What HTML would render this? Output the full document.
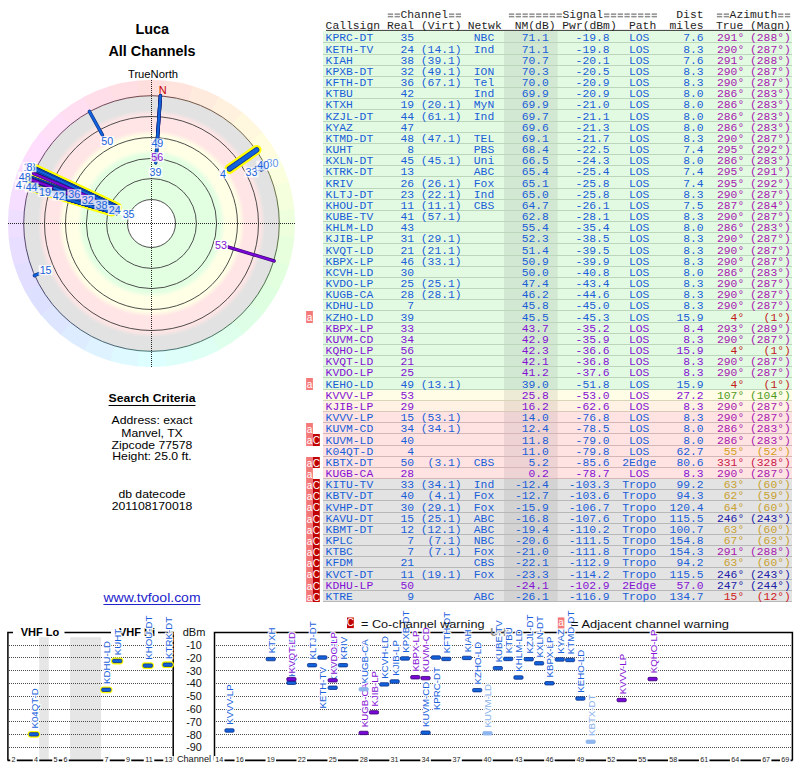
<!DOCTYPE html>
<html><head><meta charset="utf-8"><style>
*{margin:0;padding:0;box-sizing:border-box}
html,body{width:800px;height:768px;overflow:hidden;background:#fff}
body{position:relative;font-family:"Liberation Sans", sans-serif}
.m{position:absolute;font-family:"Liberation Mono", monospace;font-size:11.33px;line-height:11.33px;white-space:pre}
.h{color:#1e1e1e;transform:none}
.t{position:absolute;white-space:pre;font-family:"Liberation Sans", sans-serif;color:#000}
.abs{position:absolute;overflow:visible}
svg text{font-family:"Liberation Sans", sans-serif}
</style></head><body>
<svg class="abs" width="310" height="380" viewBox="0 0 310 380" style="left:0;top:0">
<defs><radialGradient id="bands" cx="151.50" cy="223.50" r="128" gradientUnits="userSpaceOnUse">
<stop offset="0.0000" stop-color="#ffffff"/>
<stop offset="0.1867" stop-color="#ffffff"/>
<stop offset="0.1875" stop-color="#e2ffe2"/>
<stop offset="0.5352" stop-color="#e2ffe2"/>
<stop offset="0.5781" stop-color="#ffffe6"/>
<stop offset="0.6875" stop-color="#ffffe6"/>
<stop offset="0.7305" stop-color="#ffe5e5"/>
<stop offset="0.8477" stop-color="#ffe5e5"/>
<stop offset="0.8906" stop-color="#e2e2e2"/>
<stop offset="1.0000" stop-color="#e2e2e2"/>
</radialGradient></defs>
<path d="M137.05,80.63 A143.6,143.6 0 0 1 165.95,80.63 L164.31,96.85 A127.3,127.3 0 0 0 138.69,96.85Z" fill="hsl(0.0,100%,93.5%)"/>
<path d="M165.20,80.56 A143.6,143.6 0 0 1 193.54,86.19 L188.77,101.78 A127.3,127.3 0 0 0 163.65,96.78Z" fill="hsl(11.2,100%,93.5%)"/>
<path d="M192.82,85.97 A143.6,143.6 0 0 1 219.52,97.03 L211.80,111.39 A127.3,127.3 0 0 0 188.13,101.59Z" fill="hsl(22.5,100%,93.5%)"/>
<path d="M218.86,96.68 A143.6,143.6 0 0 1 242.89,112.73 L232.52,125.31 A127.3,127.3 0 0 0 211.21,111.07Z" fill="hsl(33.8,100%,93.5%)"/>
<path d="M242.31,112.26 A143.6,143.6 0 0 1 262.74,132.69 L250.12,143.00 A127.3,127.3 0 0 0 232.00,124.88Z" fill="hsl(45.0,100%,93.5%)"/>
<path d="M262.27,132.11 A143.6,143.6 0 0 1 278.32,156.14 L263.93,163.79 A127.3,127.3 0 0 0 249.69,142.48Z" fill="hsl(56.2,100%,93.5%)"/>
<path d="M277.97,155.48 A143.6,143.6 0 0 1 289.03,182.18 L273.41,186.87 A127.3,127.3 0 0 0 263.61,163.20Z" fill="hsl(67.5,100%,93.5%)"/>
<path d="M288.81,181.46 A143.6,143.6 0 0 1 294.44,209.80 L278.22,211.35 A127.3,127.3 0 0 0 273.22,186.23Z" fill="hsl(78.8,100%,93.5%)"/>
<path d="M294.37,209.05 A143.6,143.6 0 0 1 294.37,237.95 L278.15,236.31 A127.3,127.3 0 0 0 278.15,210.69Z" fill="hsl(90.0,100%,93.5%)"/>
<path d="M294.44,237.20 A143.6,143.6 0 0 1 288.81,265.54 L273.22,260.77 A127.3,127.3 0 0 0 278.22,235.65Z" fill="hsl(101.2,100%,93.5%)"/>
<path d="M289.03,264.82 A143.6,143.6 0 0 1 277.97,291.52 L263.61,283.80 A127.3,127.3 0 0 0 273.41,260.13Z" fill="hsl(112.5,100%,93.5%)"/>
<path d="M278.32,290.86 A143.6,143.6 0 0 1 262.27,314.89 L249.69,304.52 A127.3,127.3 0 0 0 263.93,283.21Z" fill="hsl(123.8,100%,93.5%)"/>
<path d="M262.74,314.31 A143.6,143.6 0 0 1 242.31,334.74 L232.00,322.12 A127.3,127.3 0 0 0 250.12,304.00Z" fill="hsl(135.0,100%,93.5%)"/>
<path d="M242.89,334.27 A143.6,143.6 0 0 1 218.86,350.32 L211.21,335.93 A127.3,127.3 0 0 0 232.52,321.69Z" fill="hsl(146.2,100%,93.5%)"/>
<path d="M219.52,349.97 A143.6,143.6 0 0 1 192.82,361.03 L188.13,345.41 A127.3,127.3 0 0 0 211.80,335.61Z" fill="hsl(157.5,100%,93.5%)"/>
<path d="M193.54,360.81 A143.6,143.6 0 0 1 165.20,366.44 L163.65,350.22 A127.3,127.3 0 0 0 188.77,345.22Z" fill="hsl(168.8,100%,93.5%)"/>
<path d="M165.95,366.37 A143.6,143.6 0 0 1 137.05,366.37 L138.69,350.15 A127.3,127.3 0 0 0 164.31,350.15Z" fill="hsl(180.0,100%,93.5%)"/>
<path d="M137.80,366.44 A143.6,143.6 0 0 1 109.46,360.81 L114.23,345.22 A127.3,127.3 0 0 0 139.35,350.22Z" fill="hsl(191.2,100%,93.5%)"/>
<path d="M110.18,361.03 A143.6,143.6 0 0 1 83.48,349.97 L91.20,335.61 A127.3,127.3 0 0 0 114.87,345.41Z" fill="hsl(202.5,100%,93.5%)"/>
<path d="M84.14,350.32 A143.6,143.6 0 0 1 60.11,334.27 L70.48,321.69 A127.3,127.3 0 0 0 91.79,335.93Z" fill="hsl(213.8,100%,93.5%)"/>
<path d="M60.69,334.74 A143.6,143.6 0 0 1 40.26,314.31 L52.88,304.00 A127.3,127.3 0 0 0 71.00,322.12Z" fill="hsl(225.0,100%,93.5%)"/>
<path d="M40.73,314.89 A143.6,143.6 0 0 1 24.68,290.86 L39.07,283.21 A127.3,127.3 0 0 0 53.31,304.52Z" fill="hsl(236.2,100%,93.5%)"/>
<path d="M25.03,291.52 A143.6,143.6 0 0 1 13.97,264.82 L29.59,260.13 A127.3,127.3 0 0 0 39.39,283.80Z" fill="hsl(247.5,100%,93.5%)"/>
<path d="M14.19,265.54 A143.6,143.6 0 0 1 8.56,237.20 L24.78,235.65 A127.3,127.3 0 0 0 29.78,260.77Z" fill="hsl(258.8,100%,93.5%)"/>
<path d="M8.63,237.95 A143.6,143.6 0 0 1 8.63,209.05 L24.85,210.69 A127.3,127.3 0 0 0 24.85,236.31Z" fill="hsl(270.0,100%,93.5%)"/>
<path d="M8.56,209.80 A143.6,143.6 0 0 1 14.19,181.46 L29.78,186.23 A127.3,127.3 0 0 0 24.78,211.35Z" fill="hsl(281.2,100%,93.5%)"/>
<path d="M13.97,182.18 A143.6,143.6 0 0 1 25.03,155.48 L39.39,163.20 A127.3,127.3 0 0 0 29.59,186.87Z" fill="hsl(292.5,100%,93.5%)"/>
<path d="M24.68,156.14 A143.6,143.6 0 0 1 40.73,132.11 L53.31,142.48 A127.3,127.3 0 0 0 39.07,163.79Z" fill="hsl(303.8,100%,93.5%)"/>
<path d="M40.26,132.69 A143.6,143.6 0 0 1 60.69,112.26 L71.00,124.88 A127.3,127.3 0 0 0 52.88,143.00Z" fill="hsl(315.0,100%,93.5%)"/>
<path d="M60.11,112.73 A143.6,143.6 0 0 1 84.14,96.68 L91.79,111.07 A127.3,127.3 0 0 0 70.48,125.31Z" fill="hsl(326.2,100%,93.5%)"/>
<path d="M83.48,97.03 A143.6,143.6 0 0 1 110.18,85.97 L114.87,101.59 A127.3,127.3 0 0 0 91.20,111.39Z" fill="hsl(337.5,100%,93.5%)"/>
<path d="M109.46,86.19 A143.6,143.6 0 0 1 137.80,80.56 L139.35,96.78 A127.3,127.3 0 0 0 114.23,101.78Z" fill="hsl(348.8,100%,93.5%)"/>
<circle cx="151.5" cy="223.5" r="127.8" fill="url(#bands)"/>
<circle cx="151.5" cy="223.5" r="24.0" fill="none" stroke="#3a3a3a" stroke-width="0.9"/>
<circle cx="151.5" cy="223.5" r="44.9" fill="none" stroke="#3a3a3a" stroke-width="0.9"/>
<circle cx="151.5" cy="223.5" r="65.1" fill="none" stroke="#3a3a3a" stroke-width="0.9"/>
<circle cx="151.5" cy="223.5" r="86.0" fill="none" stroke="#3a3a3a" stroke-width="0.9"/>
<circle cx="151.5" cy="223.5" r="107.0" fill="none" stroke="#3a3a3a" stroke-width="0.9"/>
<path d="M126.57,98.16 A127.8,127.8 0 0 1 176.43,98.16" fill="none" stroke="hsl(0.0,30%,30%)" stroke-width="0.9"/>
<path d="M176.43,98.16 A127.8,127.8 0 0 1 222.50,117.24" fill="none" stroke="hsl(22.5,30%,30%)" stroke-width="0.9"/>
<path d="M222.50,117.24 A127.8,127.8 0 0 1 257.76,152.50" fill="none" stroke="hsl(45.0,30%,30%)" stroke-width="0.9"/>
<path d="M257.76,152.50 A127.8,127.8 0 0 1 276.84,198.57" fill="none" stroke="hsl(67.5,30%,30%)" stroke-width="0.9"/>
<path d="M276.84,198.57 A127.8,127.8 0 0 1 276.84,248.43" fill="none" stroke="hsl(90.0,30%,30%)" stroke-width="0.9"/>
<path d="M276.84,248.43 A127.8,127.8 0 0 1 257.76,294.50" fill="none" stroke="hsl(112.5,30%,30%)" stroke-width="0.9"/>
<path d="M257.76,294.50 A127.8,127.8 0 0 1 222.50,329.76" fill="none" stroke="hsl(135.0,30%,30%)" stroke-width="0.9"/>
<path d="M222.50,329.76 A127.8,127.8 0 0 1 176.43,348.84" fill="none" stroke="hsl(157.5,30%,30%)" stroke-width="0.9"/>
<path d="M176.43,348.84 A127.8,127.8 0 0 1 126.57,348.84" fill="none" stroke="hsl(180.0,30%,30%)" stroke-width="0.9"/>
<path d="M126.57,348.84 A127.8,127.8 0 0 1 80.50,329.76" fill="none" stroke="hsl(202.5,30%,30%)" stroke-width="0.9"/>
<path d="M80.50,329.76 A127.8,127.8 0 0 1 45.24,294.50" fill="none" stroke="hsl(225.0,30%,30%)" stroke-width="0.9"/>
<path d="M45.24,294.50 A127.8,127.8 0 0 1 26.16,248.43" fill="none" stroke="hsl(247.5,30%,30%)" stroke-width="0.9"/>
<path d="M26.16,248.43 A127.8,127.8 0 0 1 26.16,198.57" fill="none" stroke="hsl(270.0,30%,30%)" stroke-width="0.9"/>
<path d="M26.16,198.57 A127.8,127.8 0 0 1 45.24,152.50" fill="none" stroke="hsl(292.5,30%,30%)" stroke-width="0.9"/>
<path d="M45.24,152.50 A127.8,127.8 0 0 1 80.50,117.24" fill="none" stroke="hsl(315.0,30%,30%)" stroke-width="0.9"/>
<path d="M80.50,117.24 A127.8,127.8 0 0 1 126.57,98.16" fill="none" stroke="hsl(337.5,30%,30%)" stroke-width="0.9"/>
<line x1="151.5" y1="80" x2="151.5" y2="367" stroke="#262626" stroke-width="1" stroke-dasharray="1,1"/>
<line x1="8" y1="223.5" x2="296" y2="223.5" stroke="#262626" stroke-width="1" stroke-dasharray="1,1"/>
<line x1="117.24" y1="207.53" x2="35.31" y2="169.32" stroke="#ffff00" stroke-width="10.0" stroke-linecap="round"/>
<line x1="114.52" y1="206.26" x2="35.31" y2="169.32" stroke="#ffff00" stroke-width="10.0" stroke-linecap="round"/>
<line x1="111.81" y1="211.37" x2="28.90" y2="186.02" stroke="#ffff00" stroke-width="10.0" stroke-linecap="round"/>
<line x1="94.74" y1="202.84" x2="31.03" y2="179.65" stroke="#ffff00" stroke-width="10.0" stroke-linecap="round"/>
<line x1="229.48" y1="168.90" x2="256.52" y2="149.97" stroke="#ffff00" stroke-width="10.0" stroke-linecap="round"/>
<line x1="118.73" y1="210.92" x2="31.81" y2="177.56" stroke="#0b2f86" stroke-width="3.4" stroke-linecap="round"/>
<line x1="118.73" y1="210.92" x2="31.81" y2="177.56" stroke="#1262dc" stroke-width="2.2" stroke-linecap="round"/>
<line x1="118.52" y1="211.50" x2="31.03" y2="179.65" stroke="#0b2f86" stroke-width="3.4" stroke-linecap="round"/>
<line x1="118.52" y1="211.50" x2="31.03" y2="179.65" stroke="#1262dc" stroke-width="2.2" stroke-linecap="round"/>
<line x1="118.36" y1="210.78" x2="31.81" y2="177.56" stroke="#0b2f86" stroke-width="3.4" stroke-linecap="round"/>
<line x1="118.36" y1="210.78" x2="31.81" y2="177.56" stroke="#1262dc" stroke-width="2.2" stroke-linecap="round"/>
<line x1="117.77" y1="211.22" x2="31.03" y2="179.65" stroke="#0b2f86" stroke-width="3.4" stroke-linecap="round"/>
<line x1="117.77" y1="211.22" x2="31.03" y2="179.65" stroke="#1262dc" stroke-width="2.2" stroke-linecap="round"/>
<line x1="117.48" y1="211.12" x2="31.03" y2="179.65" stroke="#0b2f86" stroke-width="3.4" stroke-linecap="round"/>
<line x1="117.48" y1="211.12" x2="31.03" y2="179.65" stroke="#1262dc" stroke-width="2.2" stroke-linecap="round"/>
<line x1="116.61" y1="213.49" x2="28.27" y2="188.16" stroke="#0b2f86" stroke-width="3.4" stroke-linecap="round"/>
<line x1="116.61" y1="213.49" x2="28.27" y2="188.16" stroke="#1262dc" stroke-width="2.2" stroke-linecap="round"/>
<line x1="116.61" y1="213.49" x2="28.27" y2="188.16" stroke="#0b2f86" stroke-width="3.4" stroke-linecap="round"/>
<line x1="116.61" y1="213.49" x2="28.27" y2="188.16" stroke="#1262dc" stroke-width="2.2" stroke-linecap="round"/>
<line x1="116.41" y1="213.44" x2="28.27" y2="188.16" stroke="#0b2f86" stroke-width="3.4" stroke-linecap="round"/>
<line x1="116.41" y1="213.44" x2="28.27" y2="188.16" stroke="#1262dc" stroke-width="2.2" stroke-linecap="round"/>
<line x1="116.32" y1="213.41" x2="28.27" y2="188.16" stroke="#0b2f86" stroke-width="3.4" stroke-linecap="round"/>
<line x1="116.32" y1="213.41" x2="28.27" y2="188.16" stroke="#1262dc" stroke-width="2.2" stroke-linecap="round"/>
<line x1="116.64" y1="210.81" x2="31.03" y2="179.65" stroke="#0b2f86" stroke-width="3.4" stroke-linecap="round"/>
<line x1="116.64" y1="210.81" x2="31.03" y2="179.65" stroke="#1262dc" stroke-width="2.2" stroke-linecap="round"/>
<line x1="117.24" y1="207.53" x2="35.31" y2="169.32" stroke="#0b2f86" stroke-width="5.6" stroke-linecap="round"/>
<line x1="117.24" y1="207.53" x2="35.31" y2="169.32" stroke="#1262dc" stroke-width="4.2" stroke-linecap="round"/>
<line x1="113.34" y1="212.56" x2="28.27" y2="188.16" stroke="#0b2f86" stroke-width="3.4" stroke-linecap="round"/>
<line x1="113.34" y1="212.56" x2="28.27" y2="188.16" stroke="#1262dc" stroke-width="2.2" stroke-linecap="round"/>
<line x1="114.52" y1="206.26" x2="35.31" y2="169.32" stroke="#0b2f86" stroke-width="5.6" stroke-linecap="round"/>
<line x1="114.52" y1="206.26" x2="35.31" y2="169.32" stroke="#1262dc" stroke-width="4.2" stroke-linecap="round"/>
<line x1="114.25" y1="206.13" x2="35.31" y2="169.32" stroke="#0b2f86" stroke-width="3.4" stroke-linecap="round"/>
<line x1="114.25" y1="206.13" x2="35.31" y2="169.32" stroke="#1262dc" stroke-width="2.2" stroke-linecap="round"/>
<line x1="112.78" y1="209.41" x2="31.03" y2="179.65" stroke="#0b2f86" stroke-width="3.4" stroke-linecap="round"/>
<line x1="112.78" y1="209.41" x2="31.03" y2="179.65" stroke="#1262dc" stroke-width="2.2" stroke-linecap="round"/>
<line x1="111.81" y1="211.37" x2="28.90" y2="186.02" stroke="#0b2f86" stroke-width="5.6" stroke-linecap="round"/>
<line x1="111.81" y1="211.37" x2="28.90" y2="186.02" stroke="#1262dc" stroke-width="4.2" stroke-linecap="round"/>
<line x1="110.72" y1="208.66" x2="31.03" y2="179.65" stroke="#0b2f86" stroke-width="3.4" stroke-linecap="round"/>
<line x1="110.72" y1="208.66" x2="31.03" y2="179.65" stroke="#1262dc" stroke-width="2.2" stroke-linecap="round"/>
<line x1="102.67" y1="209.50" x2="28.27" y2="188.16" stroke="#0b2f86" stroke-width="3.4" stroke-linecap="round"/>
<line x1="102.67" y1="209.50" x2="28.27" y2="188.16" stroke="#1262dc" stroke-width="2.2" stroke-linecap="round"/>
<line x1="100.85" y1="205.07" x2="31.03" y2="179.65" stroke="#0b2f86" stroke-width="3.4" stroke-linecap="round"/>
<line x1="100.85" y1="205.07" x2="31.03" y2="179.65" stroke="#1262dc" stroke-width="2.2" stroke-linecap="round"/>
<line x1="100.00" y1="204.76" x2="31.03" y2="179.65" stroke="#0b2f86" stroke-width="3.4" stroke-linecap="round"/>
<line x1="100.00" y1="204.76" x2="31.03" y2="179.65" stroke="#1262dc" stroke-width="2.2" stroke-linecap="round"/>
<line x1="99.53" y1="204.59" x2="31.03" y2="179.65" stroke="#0b2f86" stroke-width="3.4" stroke-linecap="round"/>
<line x1="99.53" y1="204.59" x2="31.03" y2="179.65" stroke="#1262dc" stroke-width="2.2" stroke-linecap="round"/>
<line x1="97.48" y1="208.01" x2="28.27" y2="188.16" stroke="#0b2f86" stroke-width="3.4" stroke-linecap="round"/>
<line x1="97.48" y1="208.01" x2="28.27" y2="188.16" stroke="#1262dc" stroke-width="2.2" stroke-linecap="round"/>
<line x1="96.25" y1="203.39" x2="31.03" y2="179.65" stroke="#0b2f86" stroke-width="3.4" stroke-linecap="round"/>
<line x1="96.25" y1="203.39" x2="31.03" y2="179.65" stroke="#1262dc" stroke-width="2.2" stroke-linecap="round"/>
<line x1="95.12" y1="202.98" x2="31.03" y2="179.65" stroke="#0b2f86" stroke-width="3.4" stroke-linecap="round"/>
<line x1="95.12" y1="202.98" x2="31.03" y2="179.65" stroke="#1262dc" stroke-width="2.2" stroke-linecap="round"/>
<line x1="94.74" y1="202.84" x2="31.03" y2="179.65" stroke="#0b2f86" stroke-width="5.6" stroke-linecap="round"/>
<line x1="94.74" y1="202.84" x2="31.03" y2="179.65" stroke="#1262dc" stroke-width="4.2" stroke-linecap="round"/>
<line x1="155.73" y1="162.95" x2="160.44" y2="95.61" stroke="#0b2f86" stroke-width="3.4" stroke-linecap="round"/>
<line x1="155.73" y1="162.95" x2="160.44" y2="95.61" stroke="#1262dc" stroke-width="2.2" stroke-linecap="round"/>
<line x1="93.97" y1="199.08" x2="33.49" y2="173.41" stroke="#36006e" stroke-width="3.4" stroke-linecap="round"/>
<line x1="93.97" y1="199.08" x2="33.49" y2="173.41" stroke="#7a08d8" stroke-width="2.2" stroke-linecap="round"/>
<line x1="92.02" y1="201.85" x2="31.03" y2="179.65" stroke="#36006e" stroke-width="3.4" stroke-linecap="round"/>
<line x1="92.02" y1="201.85" x2="31.03" y2="179.65" stroke="#7a08d8" stroke-width="2.2" stroke-linecap="round"/>
<line x1="155.96" y1="159.76" x2="160.44" y2="95.61" stroke="#36006e" stroke-width="3.4" stroke-linecap="round"/>
<line x1="155.96" y1="159.76" x2="160.44" y2="95.61" stroke="#7a08d8" stroke-width="2.2" stroke-linecap="round"/>
<line x1="91.27" y1="201.58" x2="31.03" y2="179.65" stroke="#36006e" stroke-width="3.4" stroke-linecap="round"/>
<line x1="91.27" y1="201.58" x2="31.03" y2="179.65" stroke="#7a08d8" stroke-width="2.2" stroke-linecap="round"/>
<line x1="90.42" y1="201.27" x2="31.03" y2="179.65" stroke="#36006e" stroke-width="3.4" stroke-linecap="round"/>
<line x1="90.42" y1="201.27" x2="31.03" y2="179.65" stroke="#7a08d8" stroke-width="2.2" stroke-linecap="round"/>
<line x1="156.19" y1="156.46" x2="160.44" y2="95.61" stroke="#0b2f86" stroke-width="3.4" stroke-linecap="round"/>
<line x1="156.19" y1="156.46" x2="160.44" y2="95.61" stroke="#1262dc" stroke-width="2.2" stroke-linecap="round"/>
<line x1="228.39" y1="247.01" x2="274.10" y2="260.98" stroke="#36006e" stroke-width="3.4" stroke-linecap="round"/>
<line x1="228.39" y1="247.01" x2="274.10" y2="260.98" stroke="#7a08d8" stroke-width="2.2" stroke-linecap="round"/>
<line x1="66.93" y1="192.72" x2="31.03" y2="179.65" stroke="#36006e" stroke-width="3.4" stroke-linecap="round"/>
<line x1="66.93" y1="192.72" x2="31.03" y2="179.65" stroke="#7a08d8" stroke-width="2.2" stroke-linecap="round"/>
<line x1="64.86" y1="191.97" x2="31.03" y2="179.65" stroke="#0b2f86" stroke-width="3.4" stroke-linecap="round"/>
<line x1="64.86" y1="191.97" x2="31.03" y2="179.65" stroke="#1262dc" stroke-width="2.2" stroke-linecap="round"/>
<line x1="61.33" y1="197.65" x2="28.27" y2="188.16" stroke="#0b2f86" stroke-width="3.4" stroke-linecap="round"/>
<line x1="61.33" y1="197.65" x2="28.27" y2="188.16" stroke="#1262dc" stroke-width="2.2" stroke-linecap="round"/>
<line x1="60.76" y1="197.48" x2="28.27" y2="188.16" stroke="#6d96d2" stroke-width="3.4" stroke-linecap="round"/>
<line x1="60.76" y1="197.48" x2="28.27" y2="188.16" stroke="#8fb6ee" stroke-width="2.2" stroke-linecap="round"/>
<line x1="229.48" y1="168.90" x2="256.52" y2="149.97" stroke="#0b2f86" stroke-width="5.6" stroke-linecap="round"/>
<line x1="229.48" y1="168.90" x2="256.52" y2="149.97" stroke="#1262dc" stroke-width="4.2" stroke-linecap="round"/>
<line x1="102.53" y1="135.16" x2="89.35" y2="111.37" stroke="#0b2f86" stroke-width="3.4" stroke-linecap="round"/>
<line x1="102.53" y1="135.16" x2="89.35" y2="111.37" stroke="#1262dc" stroke-width="2.2" stroke-linecap="round"/>
<line x1="51.89" y1="187.25" x2="31.03" y2="179.65" stroke="#36006e" stroke-width="3.4" stroke-linecap="round"/>
<line x1="51.89" y1="187.25" x2="31.03" y2="179.65" stroke="#7a08d8" stroke-width="2.2" stroke-linecap="round"/>
<line x1="257.17" y1="169.66" x2="265.73" y2="165.30" stroke="#0b2f86" stroke-width="3.4" stroke-linecap="round"/>
<line x1="257.17" y1="169.66" x2="265.73" y2="165.30" stroke="#1262dc" stroke-width="2.2" stroke-linecap="round"/>
<line x1="256.48" y1="167.68" x2="264.69" y2="163.31" stroke="#0b2f86" stroke-width="3.4" stroke-linecap="round"/>
<line x1="256.48" y1="167.68" x2="264.69" y2="163.31" stroke="#1262dc" stroke-width="2.2" stroke-linecap="round"/>
<line x1="261.24" y1="169.97" x2="266.73" y2="167.30" stroke="#0b2f86" stroke-width="3.4" stroke-linecap="round"/>
<line x1="261.24" y1="169.97" x2="266.73" y2="167.30" stroke="#1262dc" stroke-width="2.2" stroke-linecap="round"/>
<line x1="39.13" y1="273.53" x2="34.38" y2="275.64" stroke="#0b2f86" stroke-width="3.4" stroke-linecap="round"/>
<line x1="39.13" y1="273.53" x2="34.38" y2="275.64" stroke="#1262dc" stroke-width="2.2" stroke-linecap="round"/>
<rect x="22.55" y="162.20" width="13.90" height="10.0" fill="#fff" fill-opacity="0.8"/>
<text x="29.50" y="171.00" fill="#1a62dc" font-size="10.7" text-anchor="middle">13</text>
<rect x="25.52" y="162.20" width="7.95" height="10.0" fill="#fff" fill-opacity="0.8"/>
<text x="29.50" y="171.00" fill="#1a62dc" font-size="10.7" text-anchor="middle">8</text>
<rect x="17.75" y="171.80" width="13.90" height="10.0" fill="#fff" fill-opacity="0.8"/>
<text x="24.70" y="180.60" fill="#1a62dc" font-size="10.7" text-anchor="middle">48</text>
<rect x="14.80" y="179.75" width="13.90" height="10.0" fill="#fff" fill-opacity="0.8"/>
<text x="21.75" y="188.55" fill="#1a62dc" font-size="10.7" text-anchor="middle">47</text>
<rect x="24.65" y="182.50" width="13.90" height="10.0" fill="#fff" fill-opacity="0.8"/>
<text x="31.60" y="191.30" fill="#1a62dc" font-size="10.7" text-anchor="middle">44</text>
<rect x="38.05" y="187.00" width="13.90" height="10.0" fill="#fff" fill-opacity="0.8"/>
<text x="45.00" y="195.80" fill="#1a62dc" font-size="10.7" text-anchor="middle">19</text>
<rect x="51.80" y="190.70" width="13.90" height="10.0" fill="#fff" fill-opacity="0.8"/>
<text x="58.75" y="199.50" fill="#1a62dc" font-size="10.7" text-anchor="middle">42</text>
<rect x="67.35" y="189.30" width="13.90" height="10.0" fill="#fff" fill-opacity="0.8"/>
<text x="74.30" y="198.10" fill="#1a62dc" font-size="10.7" text-anchor="middle">36</text>
<rect x="80.85" y="194.90" width="13.90" height="10.0" fill="#fff" fill-opacity="0.8"/>
<text x="87.80" y="203.70" fill="#1a62dc" font-size="10.7" text-anchor="middle">32</text>
<rect x="94.45" y="199.70" width="13.90" height="10.0" fill="#fff" fill-opacity="0.8"/>
<text x="101.40" y="208.50" fill="#1a62dc" font-size="10.7" text-anchor="middle">38</text>
<rect x="107.80" y="205.00" width="13.90" height="10.0" fill="#fff" fill-opacity="0.8"/>
<text x="114.75" y="213.80" fill="#1a62dc" font-size="10.7" text-anchor="middle">24</text>
<rect x="121.65" y="209.60" width="13.90" height="10.0" fill="#fff" fill-opacity="0.8"/>
<text x="128.60" y="218.40" fill="#1a62dc" font-size="10.7" text-anchor="middle">35</text>
<rect x="100.35" y="136.20" width="13.90" height="10.0" fill="#fff" fill-opacity="0.8"/>
<text x="107.30" y="145.00" fill="#1a62dc" font-size="10.7" text-anchor="middle">50</text>
<rect x="150.40" y="138.50" width="13.90" height="10.0" fill="#fff" fill-opacity="0.8"/>
<text x="157.35" y="147.30" fill="#1a62dc" font-size="10.7" text-anchor="middle">49</text>
<rect x="150.30" y="152.10" width="13.90" height="10.0" fill="#fff" fill-opacity="0.8"/>
<text x="157.25" y="160.90" fill="#8412d4" font-size="10.7" text-anchor="middle">56</text>
<rect x="148.55" y="167.10" width="13.90" height="10.0" fill="#fff" fill-opacity="0.8"/>
<text x="155.50" y="175.90" fill="#1a62dc" font-size="10.7" text-anchor="middle">39</text>
<rect x="219.02" y="168.75" width="7.95" height="10.0" fill="#fff" fill-opacity="0.8"/>
<text x="223.00" y="177.55" fill="#1a62dc" font-size="10.7" text-anchor="middle">4</text>
<rect x="244.55" y="167.40" width="13.90" height="10.0" fill="#fff" fill-opacity="0.8"/>
<text x="251.50" y="176.20" fill="#1a62dc" font-size="10.7" text-anchor="middle">33</text>
<rect x="265.55" y="158.50" width="13.90" height="10.0" fill="#fff" fill-opacity="0.8"/>
<text x="272.50" y="167.30" fill="#5f95e4" font-size="10.7" text-anchor="middle">30</text>
<rect x="256.30" y="160.60" width="13.90" height="10.0" fill="#fff" fill-opacity="0.8"/>
<text x="263.25" y="169.40" fill="#1a62dc" font-size="10.7" text-anchor="middle">40</text>
<rect x="214.05" y="240.00" width="13.90" height="10.0" fill="#fff" fill-opacity="0.8"/>
<text x="221.00" y="248.80" fill="#8412d4" font-size="10.7" text-anchor="middle">53</text>
<rect x="38.65" y="265.20" width="13.90" height="10.0" fill="#fff" fill-opacity="0.8"/>
<text x="45.60" y="274.00" fill="#1a62dc" font-size="10.7" text-anchor="middle">15</text>
<text x="162.75" y="94" fill="#c40000" font-size="11" text-anchor="middle">N</text>
</svg>
<div class="t" style="left:2.20px;width:300px;text-align:center;top:21.81px;font-size:14.4px;line-height:14.4px;color:#000;transform:scaleX(1.0);font-weight:bold;">Luca</div>
<div class="t" style="left:2.00px;width:300px;text-align:center;top:43.51px;font-size:14.4px;line-height:14.4px;color:#000;transform:scaleX(1.0);font-weight:bold;">All Channels</div>
<div class="t" style="left:2.50px;width:300px;text-align:center;top:69.69px;font-size:10.4px;line-height:10.4px;color:#000;transform:scaleX(1.08);">TrueNorth</div>
<div class="t" style="left:1.70px;width:300px;text-align:center;top:392.89px;font-size:11.0px;line-height:11.0px;color:#000;transform:scaleX(1.11);font-weight:bold;"><u style="text-decoration-thickness:1.2px;text-underline-offset:2.5px">Search Criteria</u></div>
<div class="t" style="left:1.70px;width:300px;text-align:center;top:415.09px;font-size:11.0px;line-height:11.0px;color:#000;transform:scaleX(1.11);">Address: exact</div>
<div class="t" style="left:1.70px;width:300px;text-align:center;top:427.59px;font-size:11.0px;line-height:11.0px;color:#000;transform:scaleX(1.11);">Manvel, TX</div>
<div class="t" style="left:1.70px;width:300px;text-align:center;top:439.69px;font-size:11.0px;line-height:11.0px;color:#000;transform:scaleX(1.11);">Zipcode 77578</div>
<div class="t" style="left:1.90px;width:300px;text-align:center;top:451.39px;font-size:11.0px;line-height:11.0px;color:#000;transform:scaleX(1.11);">Height: 25.0 ft.</div>
<div class="t" style="left:1.80px;width:300px;text-align:center;top:489.19px;font-size:11.0px;line-height:11.0px;color:#000;transform:scaleX(1.11);">db datecode</div>
<div class="t" style="left:1.80px;width:300px;text-align:center;top:501.39px;font-size:11.0px;line-height:11.0px;color:#000;transform:scaleX(1.11);">201108170018</div>
<div class="t" style="left:2.00px;width:300px;text-align:center;top:591.93px;font-size:12.6px;line-height:12.6px;color:#2222cc;transform:scaleX(1.11);"><u style="text-underline-offset:2px">www.tvfool.com</u></div>
<svg class="abs" width="800" height="610" viewBox="0 0 800 610" style="left:0;top:0">
<rect x="323" y="31" width="469" height="12" fill="#e2fae2"/>
<rect x="323" y="43" width="469" height="12" fill="#e2fae2"/>
<rect x="323" y="55" width="469" height="11" fill="#e2fae2"/>
<rect x="323" y="66" width="469" height="11" fill="#e2fae2"/>
<rect x="323" y="77" width="469" height="11" fill="#e2fae2"/>
<rect x="323" y="88" width="469" height="11" fill="#e2fae2"/>
<rect x="323" y="99" width="469" height="11" fill="#e2fae2"/>
<rect x="323" y="110" width="469" height="12" fill="#e2fae2"/>
<rect x="323" y="122" width="469" height="11" fill="#e2fae2"/>
<rect x="323" y="133" width="469" height="11" fill="#e2fae2"/>
<rect x="323" y="144" width="469" height="11" fill="#e2fae2"/>
<rect x="323" y="155" width="469" height="11" fill="#e2fae2"/>
<rect x="323" y="166" width="469" height="11" fill="#e2fae2"/>
<rect x="323" y="177" width="469" height="12" fill="#e2fae2"/>
<rect x="323" y="189" width="469" height="11" fill="#e2fae2"/>
<rect x="323" y="200" width="469" height="11" fill="#e2fae2"/>
<rect x="323" y="211" width="469" height="11" fill="#e2fae2"/>
<rect x="323" y="222" width="469" height="11" fill="#e2fae2"/>
<rect x="323" y="233" width="469" height="11" fill="#e2fae2"/>
<rect x="323" y="244" width="469" height="12" fill="#e2fae2"/>
<rect x="323" y="256" width="469" height="11" fill="#e2fae2"/>
<rect x="323" y="267" width="469" height="11" fill="#e2fae2"/>
<rect x="323" y="278" width="469" height="11" fill="#e2fae2"/>
<rect x="323" y="289" width="469" height="11" fill="#e2fae2"/>
<rect x="323" y="300" width="469" height="11" fill="#e2fae2"/>
<rect x="323" y="311" width="469" height="12" fill="#e2fae2"/>
<rect x="323" y="323" width="469" height="11" fill="#e2fae2"/>
<rect x="323" y="334" width="469" height="11" fill="#e2fae2"/>
<rect x="323" y="345" width="469" height="11" fill="#e2fae2"/>
<rect x="323" y="356" width="469" height="11" fill="#e2fae2"/>
<rect x="323" y="367" width="469" height="11" fill="#e2fae2"/>
<rect x="323" y="378" width="469" height="12" fill="#e2fae2"/>
<rect x="323" y="390" width="469" height="11" fill="#fffde6"/>
<rect x="323" y="401" width="469" height="11" fill="#fff1e3"/>
<rect x="323" y="412" width="469" height="11" fill="#ffe3e3"/>
<rect x="323" y="423" width="469" height="11" fill="#ffe3e3"/>
<rect x="323" y="434" width="469" height="12" fill="#ffe3e3"/>
<rect x="323" y="446" width="469" height="11" fill="#ffe3e3"/>
<rect x="323" y="457" width="469" height="11" fill="#ffe3e3"/>
<rect x="323" y="468" width="469" height="11" fill="#ffe3e3"/>
<rect x="323" y="479" width="469" height="11" fill="#e3e3e3"/>
<rect x="323" y="490" width="469" height="11" fill="#e3e3e3"/>
<rect x="323" y="501" width="469" height="12" fill="#e3e3e3"/>
<rect x="323" y="513" width="469" height="11" fill="#e3e3e3"/>
<rect x="323" y="524" width="469" height="11" fill="#e3e3e3"/>
<rect x="323" y="535" width="469" height="11" fill="#e3e3e3"/>
<rect x="323" y="546" width="469" height="11" fill="#e3e3e3"/>
<rect x="323" y="557" width="469" height="11" fill="#e3e3e3"/>
<rect x="323" y="568" width="469" height="12" fill="#e3e3e3"/>
<rect x="323" y="580" width="469" height="11" fill="#e3e3e3"/>
<rect x="323" y="591" width="469" height="11" fill="#e3e3e3"/>
<rect x="504" y="31" width="53.7" height="571" fill="#000" fill-opacity="0.07"/>
<rect x="323" y="42" width="469" height="1" fill="#bcd6bc"/>
<rect x="323" y="54" width="469" height="1" fill="#bcd6bc"/>
<rect x="323" y="65" width="469" height="1" fill="#bcd6bc"/>
<rect x="323" y="76" width="469" height="1" fill="#bcd6bc"/>
<rect x="323" y="87" width="469" height="1" fill="#bcd6bc"/>
<rect x="323" y="98" width="469" height="1" fill="#bcd6bc"/>
<rect x="323" y="109" width="469" height="1" fill="#bcd6bc"/>
<rect x="323" y="121" width="469" height="1" fill="#bcd6bc"/>
<rect x="323" y="132" width="469" height="1" fill="#bcd6bc"/>
<rect x="323" y="143" width="469" height="1" fill="#bcd6bc"/>
<rect x="323" y="154" width="469" height="1" fill="#bcd6bc"/>
<rect x="323" y="165" width="469" height="1" fill="#bcd6bc"/>
<rect x="323" y="176" width="469" height="1" fill="#bcd6bc"/>
<rect x="323" y="188" width="469" height="1" fill="#bcd6bc"/>
<rect x="323" y="199" width="469" height="1" fill="#bcd6bc"/>
<rect x="323" y="210" width="469" height="1" fill="#bcd6bc"/>
<rect x="323" y="221" width="469" height="1" fill="#bcd6bc"/>
<rect x="323" y="232" width="469" height="1" fill="#bcd6bc"/>
<rect x="323" y="243" width="469" height="1" fill="#bcd6bc"/>
<rect x="323" y="255" width="469" height="1" fill="#bcd6bc"/>
<rect x="323" y="266" width="469" height="1" fill="#bcd6bc"/>
<rect x="323" y="277" width="469" height="1" fill="#bcd6bc"/>
<rect x="323" y="288" width="469" height="1" fill="#bcd6bc"/>
<rect x="323" y="299" width="469" height="1" fill="#bcd6bc"/>
<rect x="323" y="310" width="469" height="1" fill="#bcd6bc"/>
<rect x="323" y="322" width="469" height="1" fill="#bcd6bc"/>
<rect x="323" y="333" width="469" height="1" fill="#bcd6bc"/>
<rect x="323" y="344" width="469" height="1" fill="#bcd6bc"/>
<rect x="323" y="355" width="469" height="1" fill="#bcd6bc"/>
<rect x="323" y="366" width="469" height="1" fill="#bcd6bc"/>
<rect x="323" y="377" width="469" height="1" fill="#bcd6bc"/>
<rect x="323" y="389" width="469" height="1" fill="#bcd6bc"/>
<rect x="323" y="400" width="469" height="1" fill="#d8d4b8"/>
<rect x="323" y="411" width="469" height="1" fill="#dac8b8"/>
<rect x="323" y="422" width="469" height="1" fill="#d4b6b6"/>
<rect x="323" y="433" width="469" height="1" fill="#d4b6b6"/>
<rect x="323" y="445" width="469" height="1" fill="#d4b6b6"/>
<rect x="323" y="456" width="469" height="1" fill="#d4b6b6"/>
<rect x="323" y="467" width="469" height="1" fill="#d4b6b6"/>
<rect x="323" y="478" width="469" height="1" fill="#d4b6b6"/>
<rect x="323" y="489" width="469" height="1" fill="#b8b8b8"/>
<rect x="323" y="500" width="469" height="1" fill="#b8b8b8"/>
<rect x="323" y="512" width="469" height="1" fill="#b8b8b8"/>
<rect x="323" y="523" width="469" height="1" fill="#b8b8b8"/>
<rect x="323" y="534" width="469" height="1" fill="#b8b8b8"/>
<rect x="323" y="545" width="469" height="1" fill="#b8b8b8"/>
<rect x="323" y="556" width="469" height="1" fill="#b8b8b8"/>
<rect x="323" y="567" width="469" height="1" fill="#b8b8b8"/>
<rect x="323" y="579" width="469" height="1" fill="#b8b8b8"/>
<rect x="323" y="590" width="469" height="1" fill="#b8b8b8"/>
<rect x="323" y="601" width="469" height="1" fill="#b8b8b8"/>
<rect x="326" y="29.9" width="465" height="1" fill="#3a3a3a"/>
<rect x="306.1" y="311" width="6.8" height="12" fill="#f47a7a"/>
<text x="309.5" y="320.60" font-size="10" fill="#fff" text-anchor="middle">a</text>
<rect x="306.1" y="378" width="6.8" height="12" fill="#f47a7a"/>
<text x="309.5" y="387.60" font-size="10" fill="#fff" text-anchor="middle">a</text>
<rect x="306.1" y="423" width="6.8" height="11" fill="#f47a7a"/>
<text x="309.5" y="432.60" font-size="10" fill="#fff" text-anchor="middle">a</text>
<rect x="306.1" y="434" width="6.8" height="12" fill="#f47a7a"/>
<text x="309.5" y="443.60" font-size="10" fill="#fff" text-anchor="middle">a</text>
<rect x="312.9" y="434" width="6.9" height="12" fill="#c00000"/>
<text x="316.35" y="444.00" font-size="10" fill="#fff" text-anchor="middle">C</text>
<rect x="306.1" y="457" width="6.8" height="11" fill="#f47a7a"/>
<text x="309.5" y="466.60" font-size="10" fill="#fff" text-anchor="middle">a</text>
<rect x="312.9" y="457" width="6.9" height="11" fill="#c00000"/>
<text x="316.35" y="467.00" font-size="10" fill="#fff" text-anchor="middle">C</text>
<rect x="306.1" y="468" width="6.8" height="11" fill="#f47a7a"/>
<text x="309.5" y="477.60" font-size="10" fill="#fff" text-anchor="middle">a</text>
<rect x="306.1" y="479" width="6.8" height="11" fill="#f47a7a"/>
<text x="309.5" y="488.60" font-size="10" fill="#fff" text-anchor="middle">a</text>
<rect x="312.9" y="479" width="6.9" height="11" fill="#c00000"/>
<text x="316.35" y="489.00" font-size="10" fill="#fff" text-anchor="middle">C</text>
<rect x="306.1" y="490" width="6.8" height="11" fill="#f47a7a"/>
<text x="309.5" y="499.60" font-size="10" fill="#fff" text-anchor="middle">a</text>
<rect x="312.9" y="490" width="6.9" height="11" fill="#c00000"/>
<text x="316.35" y="500.00" font-size="10" fill="#fff" text-anchor="middle">C</text>
<rect x="306.1" y="501" width="6.8" height="12" fill="#f47a7a"/>
<text x="309.5" y="510.60" font-size="10" fill="#fff" text-anchor="middle">a</text>
<rect x="312.9" y="501" width="6.9" height="12" fill="#c00000"/>
<text x="316.35" y="511.00" font-size="10" fill="#fff" text-anchor="middle">C</text>
<rect x="306.1" y="513" width="6.8" height="11" fill="#f47a7a"/>
<text x="309.5" y="522.60" font-size="10" fill="#fff" text-anchor="middle">a</text>
<rect x="312.9" y="513" width="6.9" height="11" fill="#c00000"/>
<text x="316.35" y="523.00" font-size="10" fill="#fff" text-anchor="middle">C</text>
<rect x="306.1" y="524" width="6.8" height="11" fill="#f47a7a"/>
<text x="309.5" y="533.60" font-size="10" fill="#fff" text-anchor="middle">a</text>
<rect x="312.9" y="524" width="6.9" height="11" fill="#c00000"/>
<text x="316.35" y="534.00" font-size="10" fill="#fff" text-anchor="middle">C</text>
<rect x="306.1" y="535" width="6.8" height="11" fill="#f47a7a"/>
<text x="309.5" y="544.60" font-size="10" fill="#fff" text-anchor="middle">a</text>
<rect x="312.9" y="535" width="6.9" height="11" fill="#c00000"/>
<text x="316.35" y="545.00" font-size="10" fill="#fff" text-anchor="middle">C</text>
<rect x="306.1" y="546" width="6.8" height="11" fill="#f47a7a"/>
<text x="309.5" y="555.60" font-size="10" fill="#fff" text-anchor="middle">a</text>
<rect x="312.9" y="546" width="6.9" height="11" fill="#c00000"/>
<text x="316.35" y="556.00" font-size="10" fill="#fff" text-anchor="middle">C</text>
<rect x="306.1" y="557" width="6.8" height="11" fill="#f47a7a"/>
<text x="309.5" y="566.60" font-size="10" fill="#fff" text-anchor="middle">a</text>
<rect x="312.9" y="557" width="6.9" height="11" fill="#c00000"/>
<text x="316.35" y="567.00" font-size="10" fill="#fff" text-anchor="middle">C</text>
<rect x="306.1" y="568" width="6.8" height="12" fill="#f47a7a"/>
<text x="309.5" y="577.60" font-size="10" fill="#fff" text-anchor="middle">a</text>
<rect x="312.9" y="568" width="6.9" height="12" fill="#c00000"/>
<text x="316.35" y="578.00" font-size="10" fill="#fff" text-anchor="middle">C</text>
<rect x="306.1" y="580" width="6.8" height="11" fill="#f47a7a"/>
<text x="309.5" y="589.60" font-size="10" fill="#fff" text-anchor="middle">a</text>
<rect x="312.9" y="580" width="6.9" height="11" fill="#c00000"/>
<text x="316.35" y="590.00" font-size="10" fill="#fff" text-anchor="middle">C</text>
<rect x="306.1" y="591" width="6.8" height="11" fill="#f47a7a"/>
<text x="309.5" y="600.60" font-size="10" fill="#fff" text-anchor="middle">a</text>
<rect x="312.9" y="591" width="6.9" height="11" fill="#c00000"/>
<text x="316.35" y="601.00" font-size="10" fill="#fff" text-anchor="middle">C</text>
<rect x="387.80" y="13.4" width="5.30" height="1.5" fill="#8e8e8e"/>
<rect x="387.80" y="15.9" width="5.30" height="1.5" fill="#8e8e8e"/>
<rect x="394.60" y="13.4" width="5.30" height="1.5" fill="#8e8e8e"/>
<rect x="394.60" y="15.9" width="5.30" height="1.5" fill="#8e8e8e"/>
<rect x="448.98" y="13.4" width="5.30" height="1.5" fill="#8e8e8e"/>
<rect x="448.98" y="15.9" width="5.30" height="1.5" fill="#8e8e8e"/>
<rect x="455.78" y="13.4" width="5.30" height="1.5" fill="#8e8e8e"/>
<rect x="455.78" y="15.9" width="5.30" height="1.5" fill="#8e8e8e"/>
<rect x="508.90" y="13.4" width="5.30" height="1.5" fill="#8e8e8e"/>
<rect x="508.90" y="15.9" width="5.30" height="1.5" fill="#8e8e8e"/>
<rect x="515.70" y="13.4" width="5.30" height="1.5" fill="#8e8e8e"/>
<rect x="515.70" y="15.9" width="5.30" height="1.5" fill="#8e8e8e"/>
<rect x="522.50" y="13.4" width="5.30" height="1.5" fill="#8e8e8e"/>
<rect x="522.50" y="15.9" width="5.30" height="1.5" fill="#8e8e8e"/>
<rect x="529.29" y="13.4" width="5.30" height="1.5" fill="#8e8e8e"/>
<rect x="529.29" y="15.9" width="5.30" height="1.5" fill="#8e8e8e"/>
<rect x="536.09" y="13.4" width="5.30" height="1.5" fill="#8e8e8e"/>
<rect x="536.09" y="15.9" width="5.30" height="1.5" fill="#8e8e8e"/>
<rect x="542.89" y="13.4" width="5.30" height="1.5" fill="#8e8e8e"/>
<rect x="542.89" y="15.9" width="5.30" height="1.5" fill="#8e8e8e"/>
<rect x="549.69" y="13.4" width="5.30" height="1.5" fill="#8e8e8e"/>
<rect x="549.69" y="15.9" width="5.30" height="1.5" fill="#8e8e8e"/>
<rect x="556.49" y="13.4" width="5.30" height="1.5" fill="#8e8e8e"/>
<rect x="556.49" y="15.9" width="5.30" height="1.5" fill="#8e8e8e"/>
<rect x="604.07" y="13.4" width="5.30" height="1.5" fill="#8e8e8e"/>
<rect x="604.07" y="15.9" width="5.30" height="1.5" fill="#8e8e8e"/>
<rect x="610.87" y="13.4" width="5.30" height="1.5" fill="#8e8e8e"/>
<rect x="610.87" y="15.9" width="5.30" height="1.5" fill="#8e8e8e"/>
<rect x="617.67" y="13.4" width="5.30" height="1.5" fill="#8e8e8e"/>
<rect x="617.67" y="15.9" width="5.30" height="1.5" fill="#8e8e8e"/>
<rect x="624.47" y="13.4" width="5.30" height="1.5" fill="#8e8e8e"/>
<rect x="624.47" y="15.9" width="5.30" height="1.5" fill="#8e8e8e"/>
<rect x="631.26" y="13.4" width="5.30" height="1.5" fill="#8e8e8e"/>
<rect x="631.26" y="15.9" width="5.30" height="1.5" fill="#8e8e8e"/>
<rect x="638.06" y="13.4" width="5.30" height="1.5" fill="#8e8e8e"/>
<rect x="638.06" y="15.9" width="5.30" height="1.5" fill="#8e8e8e"/>
<rect x="644.86" y="13.4" width="5.30" height="1.5" fill="#8e8e8e"/>
<rect x="644.86" y="15.9" width="5.30" height="1.5" fill="#8e8e8e"/>
<rect x="651.66" y="13.4" width="5.30" height="1.5" fill="#8e8e8e"/>
<rect x="651.66" y="15.9" width="5.30" height="1.5" fill="#8e8e8e"/>
<rect x="716.90" y="13.4" width="5.30" height="1.5" fill="#8e8e8e"/>
<rect x="716.90" y="15.9" width="5.30" height="1.5" fill="#8e8e8e"/>
<rect x="723.70" y="13.4" width="5.30" height="1.5" fill="#8e8e8e"/>
<rect x="723.70" y="15.9" width="5.30" height="1.5" fill="#8e8e8e"/>
<rect x="778.08" y="13.4" width="5.30" height="1.5" fill="#8e8e8e"/>
<rect x="778.08" y="15.9" width="5.30" height="1.5" fill="#8e8e8e"/>
<rect x="784.88" y="13.4" width="5.30" height="1.5" fill="#8e8e8e"/>
<rect x="784.88" y="15.9" width="5.30" height="1.5" fill="#8e8e8e"/>
</svg>
<span class="m h" style="left:400.50px;top:10.32px">Channel</span>
<span class="m h" style="left:562.38px;top:10.32px">Signal</span>
<span class="m h" style="left:676.30px;top:10.32px">Dist</span>
<span class="m h" style="left:729.60px;top:10.32px">Azimuth</span>
<span class="m h" style="left:325.60px;top:20.92px">Callsign</span>
<span class="m h" style="left:386.90px;top:20.92px">Real (Virt)</span>
<span class="m h" style="left:467.70px;top:20.92px">Netwk</span>
<span class="m h" style="left:514.70px;top:20.92px">NM(dB)</span>
<span class="m h" style="left:562.30px;top:20.92px">Pwr(dBm)</span>
<span class="m h" style="left:629.00px;top:20.92px">Path</span>
<span class="m h" style="left:669.50px;top:20.92px">miles</span>
<span class="m h" style="left:716.00px;top:20.92px">True (Magn)</span>
<span class="m" style="left:325.60px;top:32.72px;color:#1a5ed8">KPRC-DT</span>
<span class="m" style="right:385.90px;top:32.72px;color:#1a5ed8">35</span>
<span class="m" style="left:473.80px;top:32.72px;color:#1a5ed8">NBC</span>
<span class="m" style="right:251.10px;top:32.72px;color:#1a5ed8">71.1</span>
<span class="m" style="right:190.40px;top:32.72px;color:#1a5ed8">-19.8</span>
<span class="m" style="left:629.00px;top:32.72px;color:#1a5ed8">LOS</span>
<span class="m" style="right:96.40px;top:32.72px;color:#1a5ed8">7.6</span>
<span class="m" style="right:55.80px;top:32.72px;color:#a818b0">291&deg;</span>
<span class="m" style="right:9.20px;top:32.72px;color:#a818b0">(288&deg;)</span>
<span class="m" style="left:325.60px;top:44.72px;color:#1a5ed8">KETH-TV</span>
<span class="m" style="right:385.90px;top:44.72px;color:#1a5ed8">24</span>
<span class="m" style="right:338.40px;top:44.72px;color:#1a5ed8">(14.1)</span>
<span class="m" style="left:473.80px;top:44.72px;color:#1a5ed8">Ind</span>
<span class="m" style="right:251.10px;top:44.72px;color:#1a5ed8">71.1</span>
<span class="m" style="right:190.40px;top:44.72px;color:#1a5ed8">-19.8</span>
<span class="m" style="left:629.00px;top:44.72px;color:#1a5ed8">LOS</span>
<span class="m" style="right:96.40px;top:44.72px;color:#1a5ed8">8.3</span>
<span class="m" style="right:55.80px;top:44.72px;color:#a818b0">290&deg;</span>
<span class="m" style="right:9.20px;top:44.72px;color:#a818b0">(287&deg;)</span>
<span class="m" style="left:325.60px;top:55.72px;color:#1a5ed8">KIAH</span>
<span class="m" style="right:385.90px;top:55.72px;color:#1a5ed8">38</span>
<span class="m" style="right:338.40px;top:55.72px;color:#1a5ed8">(39.1)</span>
<span class="m" style="right:251.10px;top:55.72px;color:#1a5ed8">70.7</span>
<span class="m" style="right:190.40px;top:55.72px;color:#1a5ed8">-20.1</span>
<span class="m" style="left:629.00px;top:55.72px;color:#1a5ed8">LOS</span>
<span class="m" style="right:96.40px;top:55.72px;color:#1a5ed8">7.6</span>
<span class="m" style="right:55.80px;top:55.72px;color:#a818b0">291&deg;</span>
<span class="m" style="right:9.20px;top:55.72px;color:#a818b0">(288&deg;)</span>
<span class="m" style="left:325.60px;top:66.72px;color:#1a5ed8">KPXB-DT</span>
<span class="m" style="right:385.90px;top:66.72px;color:#1a5ed8">32</span>
<span class="m" style="right:338.40px;top:66.72px;color:#1a5ed8">(49.1)</span>
<span class="m" style="left:473.80px;top:66.72px;color:#1a5ed8">ION</span>
<span class="m" style="right:251.10px;top:66.72px;color:#1a5ed8">70.3</span>
<span class="m" style="right:190.40px;top:66.72px;color:#1a5ed8">-20.5</span>
<span class="m" style="left:629.00px;top:66.72px;color:#1a5ed8">LOS</span>
<span class="m" style="right:96.40px;top:66.72px;color:#1a5ed8">8.3</span>
<span class="m" style="right:55.80px;top:66.72px;color:#a818b0">290&deg;</span>
<span class="m" style="right:9.20px;top:66.72px;color:#a818b0">(287&deg;)</span>
<span class="m" style="left:325.60px;top:77.72px;color:#1a5ed8">KFTH-DT</span>
<span class="m" style="right:385.90px;top:77.72px;color:#1a5ed8">36</span>
<span class="m" style="right:338.40px;top:77.72px;color:#1a5ed8">(67.1)</span>
<span class="m" style="left:473.80px;top:77.72px;color:#1a5ed8">Tel</span>
<span class="m" style="right:251.10px;top:77.72px;color:#1a5ed8">70.0</span>
<span class="m" style="right:190.40px;top:77.72px;color:#1a5ed8">-20.9</span>
<span class="m" style="left:629.00px;top:77.72px;color:#1a5ed8">LOS</span>
<span class="m" style="right:96.40px;top:77.72px;color:#1a5ed8">8.3</span>
<span class="m" style="right:55.80px;top:77.72px;color:#a818b0">290&deg;</span>
<span class="m" style="right:9.20px;top:77.72px;color:#a818b0">(287&deg;)</span>
<span class="m" style="left:325.60px;top:88.72px;color:#1a5ed8">KTBU</span>
<span class="m" style="right:385.90px;top:88.72px;color:#1a5ed8">42</span>
<span class="m" style="left:473.80px;top:88.72px;color:#1a5ed8">Ind</span>
<span class="m" style="right:251.10px;top:88.72px;color:#1a5ed8">69.9</span>
<span class="m" style="right:190.40px;top:88.72px;color:#1a5ed8">-20.9</span>
<span class="m" style="left:629.00px;top:88.72px;color:#1a5ed8">LOS</span>
<span class="m" style="right:96.40px;top:88.72px;color:#1a5ed8">8.0</span>
<span class="m" style="right:55.80px;top:88.72px;color:#a818b0">286&deg;</span>
<span class="m" style="right:9.20px;top:88.72px;color:#a818b0">(283&deg;)</span>
<span class="m" style="left:325.60px;top:99.72px;color:#1a5ed8">KTXH</span>
<span class="m" style="right:385.90px;top:99.72px;color:#1a5ed8">19</span>
<span class="m" style="right:338.40px;top:99.72px;color:#1a5ed8">(20.1)</span>
<span class="m" style="left:473.80px;top:99.72px;color:#1a5ed8">MyN</span>
<span class="m" style="right:251.10px;top:99.72px;color:#1a5ed8">69.9</span>
<span class="m" style="right:190.40px;top:99.72px;color:#1a5ed8">-21.0</span>
<span class="m" style="left:629.00px;top:99.72px;color:#1a5ed8">LOS</span>
<span class="m" style="right:96.40px;top:99.72px;color:#1a5ed8">8.0</span>
<span class="m" style="right:55.80px;top:99.72px;color:#a818b0">286&deg;</span>
<span class="m" style="right:9.20px;top:99.72px;color:#a818b0">(283&deg;)</span>
<span class="m" style="left:325.60px;top:111.72px;color:#1a5ed8">KZJL-DT</span>
<span class="m" style="right:385.90px;top:111.72px;color:#1a5ed8">44</span>
<span class="m" style="right:338.40px;top:111.72px;color:#1a5ed8">(61.1)</span>
<span class="m" style="left:473.80px;top:111.72px;color:#1a5ed8">Ind</span>
<span class="m" style="right:251.10px;top:111.72px;color:#1a5ed8">69.7</span>
<span class="m" style="right:190.40px;top:111.72px;color:#1a5ed8">-21.1</span>
<span class="m" style="left:629.00px;top:111.72px;color:#1a5ed8">LOS</span>
<span class="m" style="right:96.40px;top:111.72px;color:#1a5ed8">8.0</span>
<span class="m" style="right:55.80px;top:111.72px;color:#a818b0">286&deg;</span>
<span class="m" style="right:9.20px;top:111.72px;color:#a818b0">(283&deg;)</span>
<span class="m" style="left:325.60px;top:122.72px;color:#1a5ed8">KYAZ</span>
<span class="m" style="right:385.90px;top:122.72px;color:#1a5ed8">47</span>
<span class="m" style="right:251.10px;top:122.72px;color:#1a5ed8">69.6</span>
<span class="m" style="right:190.40px;top:122.72px;color:#1a5ed8">-21.3</span>
<span class="m" style="left:629.00px;top:122.72px;color:#1a5ed8">LOS</span>
<span class="m" style="right:96.40px;top:122.72px;color:#1a5ed8">8.0</span>
<span class="m" style="right:55.80px;top:122.72px;color:#a818b0">286&deg;</span>
<span class="m" style="right:9.20px;top:122.72px;color:#a818b0">(283&deg;)</span>
<span class="m" style="left:325.60px;top:133.72px;color:#1a5ed8">KTMD-DT</span>
<span class="m" style="right:385.90px;top:133.72px;color:#1a5ed8">48</span>
<span class="m" style="right:338.40px;top:133.72px;color:#1a5ed8">(47.1)</span>
<span class="m" style="left:473.80px;top:133.72px;color:#1a5ed8">TEL</span>
<span class="m" style="right:251.10px;top:133.72px;color:#1a5ed8">69.1</span>
<span class="m" style="right:190.40px;top:133.72px;color:#1a5ed8">-21.7</span>
<span class="m" style="left:629.00px;top:133.72px;color:#1a5ed8">LOS</span>
<span class="m" style="right:96.40px;top:133.72px;color:#1a5ed8">8.3</span>
<span class="m" style="right:55.80px;top:133.72px;color:#a818b0">290&deg;</span>
<span class="m" style="right:9.20px;top:133.72px;color:#a818b0">(287&deg;)</span>
<span class="m" style="left:325.60px;top:144.72px;color:#1a5ed8">KUHT</span>
<span class="m" style="right:385.90px;top:144.72px;color:#1a5ed8">8</span>
<span class="m" style="left:473.80px;top:144.72px;color:#1a5ed8">PBS</span>
<span class="m" style="right:251.10px;top:144.72px;color:#1a5ed8">68.4</span>
<span class="m" style="right:190.40px;top:144.72px;color:#1a5ed8">-22.5</span>
<span class="m" style="left:629.00px;top:144.72px;color:#1a5ed8">LOS</span>
<span class="m" style="right:96.40px;top:144.72px;color:#1a5ed8">7.4</span>
<span class="m" style="right:55.80px;top:144.72px;color:#a818b0">295&deg;</span>
<span class="m" style="right:9.20px;top:144.72px;color:#a818b0">(292&deg;)</span>
<span class="m" style="left:325.60px;top:155.72px;color:#1a5ed8">KXLN-DT</span>
<span class="m" style="right:385.90px;top:155.72px;color:#1a5ed8">45</span>
<span class="m" style="right:338.40px;top:155.72px;color:#1a5ed8">(45.1)</span>
<span class="m" style="left:473.80px;top:155.72px;color:#1a5ed8">Uni</span>
<span class="m" style="right:251.10px;top:155.72px;color:#1a5ed8">66.5</span>
<span class="m" style="right:190.40px;top:155.72px;color:#1a5ed8">-24.3</span>
<span class="m" style="left:629.00px;top:155.72px;color:#1a5ed8">LOS</span>
<span class="m" style="right:96.40px;top:155.72px;color:#1a5ed8">8.0</span>
<span class="m" style="right:55.80px;top:155.72px;color:#a818b0">286&deg;</span>
<span class="m" style="right:9.20px;top:155.72px;color:#a818b0">(283&deg;)</span>
<span class="m" style="left:325.60px;top:166.72px;color:#1a5ed8">KTRK-DT</span>
<span class="m" style="right:385.90px;top:166.72px;color:#1a5ed8">13</span>
<span class="m" style="left:473.80px;top:166.72px;color:#1a5ed8">ABC</span>
<span class="m" style="right:251.10px;top:166.72px;color:#1a5ed8">65.4</span>
<span class="m" style="right:190.40px;top:166.72px;color:#1a5ed8">-25.4</span>
<span class="m" style="left:629.00px;top:166.72px;color:#1a5ed8">LOS</span>
<span class="m" style="right:96.40px;top:166.72px;color:#1a5ed8">7.4</span>
<span class="m" style="right:55.80px;top:166.72px;color:#a818b0">295&deg;</span>
<span class="m" style="right:9.20px;top:166.72px;color:#a818b0">(291&deg;)</span>
<span class="m" style="left:325.60px;top:178.72px;color:#1a5ed8">KRIV</span>
<span class="m" style="right:385.90px;top:178.72px;color:#1a5ed8">26</span>
<span class="m" style="right:338.40px;top:178.72px;color:#1a5ed8">(26.1)</span>
<span class="m" style="left:473.80px;top:178.72px;color:#1a5ed8">Fox</span>
<span class="m" style="right:251.10px;top:178.72px;color:#1a5ed8">65.1</span>
<span class="m" style="right:190.40px;top:178.72px;color:#1a5ed8">-25.8</span>
<span class="m" style="left:629.00px;top:178.72px;color:#1a5ed8">LOS</span>
<span class="m" style="right:96.40px;top:178.72px;color:#1a5ed8">7.4</span>
<span class="m" style="right:55.80px;top:178.72px;color:#a818b0">295&deg;</span>
<span class="m" style="right:9.20px;top:178.72px;color:#a818b0">(292&deg;)</span>
<span class="m" style="left:325.60px;top:189.72px;color:#1a5ed8">KLTJ-DT</span>
<span class="m" style="right:385.90px;top:189.72px;color:#1a5ed8">23</span>
<span class="m" style="right:338.40px;top:189.72px;color:#1a5ed8">(22.1)</span>
<span class="m" style="left:473.80px;top:189.72px;color:#1a5ed8">Ind</span>
<span class="m" style="right:251.10px;top:189.72px;color:#1a5ed8">65.0</span>
<span class="m" style="right:190.40px;top:189.72px;color:#1a5ed8">-25.8</span>
<span class="m" style="left:629.00px;top:189.72px;color:#1a5ed8">LOS</span>
<span class="m" style="right:96.40px;top:189.72px;color:#1a5ed8">8.3</span>
<span class="m" style="right:55.80px;top:189.72px;color:#a818b0">290&deg;</span>
<span class="m" style="right:9.20px;top:189.72px;color:#a818b0">(287&deg;)</span>
<span class="m" style="left:325.60px;top:200.72px;color:#1a5ed8">KHOU-DT</span>
<span class="m" style="right:385.90px;top:200.72px;color:#1a5ed8">11</span>
<span class="m" style="right:338.40px;top:200.72px;color:#1a5ed8">(11.1)</span>
<span class="m" style="left:473.80px;top:200.72px;color:#1a5ed8">CBS</span>
<span class="m" style="right:251.10px;top:200.72px;color:#1a5ed8">64.7</span>
<span class="m" style="right:190.40px;top:200.72px;color:#1a5ed8">-26.1</span>
<span class="m" style="left:629.00px;top:200.72px;color:#1a5ed8">LOS</span>
<span class="m" style="right:96.40px;top:200.72px;color:#1a5ed8">7.5</span>
<span class="m" style="right:55.80px;top:200.72px;color:#a818b0">287&deg;</span>
<span class="m" style="right:9.20px;top:200.72px;color:#a818b0">(284&deg;)</span>
<span class="m" style="left:325.60px;top:211.72px;color:#1a5ed8">KUBE-TV</span>
<span class="m" style="right:385.90px;top:211.72px;color:#1a5ed8">41</span>
<span class="m" style="right:338.40px;top:211.72px;color:#1a5ed8">(57.1)</span>
<span class="m" style="right:251.10px;top:211.72px;color:#1a5ed8">62.8</span>
<span class="m" style="right:190.40px;top:211.72px;color:#1a5ed8">-28.1</span>
<span class="m" style="left:629.00px;top:211.72px;color:#1a5ed8">LOS</span>
<span class="m" style="right:96.40px;top:211.72px;color:#1a5ed8">8.3</span>
<span class="m" style="right:55.80px;top:211.72px;color:#a818b0">290&deg;</span>
<span class="m" style="right:9.20px;top:211.72px;color:#a818b0">(287&deg;)</span>
<span class="m" style="left:325.60px;top:222.72px;color:#1a5ed8">KHLM-LD</span>
<span class="m" style="right:385.90px;top:222.72px;color:#1a5ed8">43</span>
<span class="m" style="right:251.10px;top:222.72px;color:#1a5ed8">55.4</span>
<span class="m" style="right:190.40px;top:222.72px;color:#1a5ed8">-35.4</span>
<span class="m" style="left:629.00px;top:222.72px;color:#1a5ed8">LOS</span>
<span class="m" style="right:96.40px;top:222.72px;color:#1a5ed8">8.0</span>
<span class="m" style="right:55.80px;top:222.72px;color:#a818b0">286&deg;</span>
<span class="m" style="right:9.20px;top:222.72px;color:#a818b0">(283&deg;)</span>
<span class="m" style="left:325.60px;top:233.72px;color:#1a5ed8">KJIB-LP</span>
<span class="m" style="right:385.90px;top:233.72px;color:#1a5ed8">31</span>
<span class="m" style="right:338.40px;top:233.72px;color:#1a5ed8">(29.1)</span>
<span class="m" style="right:251.10px;top:233.72px;color:#1a5ed8">52.3</span>
<span class="m" style="right:190.40px;top:233.72px;color:#1a5ed8">-38.5</span>
<span class="m" style="left:629.00px;top:233.72px;color:#1a5ed8">LOS</span>
<span class="m" style="right:96.40px;top:233.72px;color:#1a5ed8">8.3</span>
<span class="m" style="right:55.80px;top:233.72px;color:#a818b0">290&deg;</span>
<span class="m" style="right:9.20px;top:233.72px;color:#a818b0">(287&deg;)</span>
<span class="m" style="left:325.60px;top:245.72px;color:#1a5ed8">KVQT-LD</span>
<span class="m" style="right:385.90px;top:245.72px;color:#1a5ed8">21</span>
<span class="m" style="right:338.40px;top:245.72px;color:#1a5ed8">(21.1)</span>
<span class="m" style="right:251.10px;top:245.72px;color:#1a5ed8">51.4</span>
<span class="m" style="right:190.40px;top:245.72px;color:#1a5ed8">-39.5</span>
<span class="m" style="left:629.00px;top:245.72px;color:#1a5ed8">LOS</span>
<span class="m" style="right:96.40px;top:245.72px;color:#1a5ed8">8.3</span>
<span class="m" style="right:55.80px;top:245.72px;color:#a818b0">290&deg;</span>
<span class="m" style="right:9.20px;top:245.72px;color:#a818b0">(287&deg;)</span>
<span class="m" style="left:325.60px;top:256.72px;color:#1a5ed8">KBPX-LP</span>
<span class="m" style="right:385.90px;top:256.72px;color:#1a5ed8">46</span>
<span class="m" style="right:338.40px;top:256.72px;color:#1a5ed8">(33.1)</span>
<span class="m" style="right:251.10px;top:256.72px;color:#1a5ed8">50.9</span>
<span class="m" style="right:190.40px;top:256.72px;color:#1a5ed8">-39.9</span>
<span class="m" style="left:629.00px;top:256.72px;color:#1a5ed8">LOS</span>
<span class="m" style="right:96.40px;top:256.72px;color:#1a5ed8">8.3</span>
<span class="m" style="right:55.80px;top:256.72px;color:#a818b0">290&deg;</span>
<span class="m" style="right:9.20px;top:256.72px;color:#a818b0">(287&deg;)</span>
<span class="m" style="left:325.60px;top:267.72px;color:#1a5ed8">KCVH-LD</span>
<span class="m" style="right:385.90px;top:267.72px;color:#1a5ed8">30</span>
<span class="m" style="right:251.10px;top:267.72px;color:#1a5ed8">50.0</span>
<span class="m" style="right:190.40px;top:267.72px;color:#1a5ed8">-40.8</span>
<span class="m" style="left:629.00px;top:267.72px;color:#1a5ed8">LOS</span>
<span class="m" style="right:96.40px;top:267.72px;color:#1a5ed8">8.0</span>
<span class="m" style="right:55.80px;top:267.72px;color:#a818b0">286&deg;</span>
<span class="m" style="right:9.20px;top:267.72px;color:#a818b0">(283&deg;)</span>
<span class="m" style="left:325.60px;top:278.72px;color:#1a5ed8">KVDO-LP</span>
<span class="m" style="right:385.90px;top:278.72px;color:#1a5ed8">25</span>
<span class="m" style="right:338.40px;top:278.72px;color:#1a5ed8">(25.1)</span>
<span class="m" style="right:251.10px;top:278.72px;color:#1a5ed8">47.4</span>
<span class="m" style="right:190.40px;top:278.72px;color:#1a5ed8">-43.4</span>
<span class="m" style="left:629.00px;top:278.72px;color:#1a5ed8">LOS</span>
<span class="m" style="right:96.40px;top:278.72px;color:#1a5ed8">8.3</span>
<span class="m" style="right:55.80px;top:278.72px;color:#a818b0">290&deg;</span>
<span class="m" style="right:9.20px;top:278.72px;color:#a818b0">(287&deg;)</span>
<span class="m" style="left:325.60px;top:289.72px;color:#1a5ed8">KUGB-CA</span>
<span class="m" style="right:385.90px;top:289.72px;color:#1a5ed8">28</span>
<span class="m" style="right:338.40px;top:289.72px;color:#1a5ed8">(28.1)</span>
<span class="m" style="right:251.10px;top:289.72px;color:#1a5ed8">46.2</span>
<span class="m" style="right:190.40px;top:289.72px;color:#1a5ed8">-44.6</span>
<span class="m" style="left:629.00px;top:289.72px;color:#1a5ed8">LOS</span>
<span class="m" style="right:96.40px;top:289.72px;color:#1a5ed8">8.3</span>
<span class="m" style="right:55.80px;top:289.72px;color:#a818b0">290&deg;</span>
<span class="m" style="right:9.20px;top:289.72px;color:#a818b0">(287&deg;)</span>
<span class="m" style="left:325.60px;top:300.72px;color:#1a5ed8">KDHU-LD</span>
<span class="m" style="right:385.90px;top:300.72px;color:#1a5ed8">7</span>
<span class="m" style="right:251.10px;top:300.72px;color:#1a5ed8">45.8</span>
<span class="m" style="right:190.40px;top:300.72px;color:#1a5ed8">-45.0</span>
<span class="m" style="left:629.00px;top:300.72px;color:#1a5ed8">LOS</span>
<span class="m" style="right:96.40px;top:300.72px;color:#1a5ed8">8.3</span>
<span class="m" style="right:55.80px;top:300.72px;color:#a818b0">290&deg;</span>
<span class="m" style="right:9.20px;top:300.72px;color:#a818b0">(287&deg;)</span>
<span class="m" style="left:325.60px;top:312.72px;color:#1a5ed8">KZHO-LD</span>
<span class="m" style="right:385.90px;top:312.72px;color:#1a5ed8">39</span>
<span class="m" style="right:251.10px;top:312.72px;color:#1a5ed8">45.5</span>
<span class="m" style="right:190.40px;top:312.72px;color:#1a5ed8">-45.3</span>
<span class="m" style="left:629.00px;top:312.72px;color:#1a5ed8">LOS</span>
<span class="m" style="right:96.40px;top:312.72px;color:#1a5ed8">15.9</span>
<span class="m" style="right:55.80px;top:312.72px;color:#c41a1a">4&deg;</span>
<span class="m" style="right:9.20px;top:312.72px;color:#c41a1a">(1&deg;)</span>
<span class="m" style="left:325.60px;top:323.72px;color:#8412d4">KBPX-LP</span>
<span class="m" style="right:385.90px;top:323.72px;color:#8412d4">33</span>
<span class="m" style="right:251.10px;top:323.72px;color:#8412d4">43.7</span>
<span class="m" style="right:190.40px;top:323.72px;color:#8412d4">-35.2</span>
<span class="m" style="left:629.00px;top:323.72px;color:#8412d4">LOS</span>
<span class="m" style="right:96.40px;top:323.72px;color:#8412d4">8.4</span>
<span class="m" style="right:55.80px;top:323.72px;color:#a818b0">293&deg;</span>
<span class="m" style="right:9.20px;top:323.72px;color:#a818b0">(289&deg;)</span>
<span class="m" style="left:325.60px;top:334.72px;color:#8412d4">KUVM-CD</span>
<span class="m" style="right:385.90px;top:334.72px;color:#8412d4">34</span>
<span class="m" style="right:251.10px;top:334.72px;color:#8412d4">42.9</span>
<span class="m" style="right:190.40px;top:334.72px;color:#8412d4">-35.9</span>
<span class="m" style="left:629.00px;top:334.72px;color:#8412d4">LOS</span>
<span class="m" style="right:96.40px;top:334.72px;color:#8412d4">8.3</span>
<span class="m" style="right:55.80px;top:334.72px;color:#a818b0">290&deg;</span>
<span class="m" style="right:9.20px;top:334.72px;color:#a818b0">(287&deg;)</span>
<span class="m" style="left:325.60px;top:345.72px;color:#8412d4">KQHO-LP</span>
<span class="m" style="right:385.90px;top:345.72px;color:#8412d4">56</span>
<span class="m" style="right:251.10px;top:345.72px;color:#8412d4">42.3</span>
<span class="m" style="right:190.40px;top:345.72px;color:#8412d4">-36.6</span>
<span class="m" style="left:629.00px;top:345.72px;color:#8412d4">LOS</span>
<span class="m" style="right:96.40px;top:345.72px;color:#8412d4">15.9</span>
<span class="m" style="right:55.80px;top:345.72px;color:#c41a1a">4&deg;</span>
<span class="m" style="right:9.20px;top:345.72px;color:#c41a1a">(1&deg;)</span>
<span class="m" style="left:325.60px;top:356.72px;color:#8412d4">KVQT-LD</span>
<span class="m" style="right:385.90px;top:356.72px;color:#8412d4">21</span>
<span class="m" style="right:251.10px;top:356.72px;color:#8412d4">42.1</span>
<span class="m" style="right:190.40px;top:356.72px;color:#8412d4">-36.8</span>
<span class="m" style="left:629.00px;top:356.72px;color:#8412d4">LOS</span>
<span class="m" style="right:96.40px;top:356.72px;color:#8412d4">8.3</span>
<span class="m" style="right:55.80px;top:356.72px;color:#a818b0">290&deg;</span>
<span class="m" style="right:9.20px;top:356.72px;color:#a818b0">(287&deg;)</span>
<span class="m" style="left:325.60px;top:367.72px;color:#8412d4">KVDO-LP</span>
<span class="m" style="right:385.90px;top:367.72px;color:#8412d4">25</span>
<span class="m" style="right:251.10px;top:367.72px;color:#8412d4">41.2</span>
<span class="m" style="right:190.40px;top:367.72px;color:#8412d4">-37.6</span>
<span class="m" style="left:629.00px;top:367.72px;color:#8412d4">LOS</span>
<span class="m" style="right:96.40px;top:367.72px;color:#8412d4">8.3</span>
<span class="m" style="right:55.80px;top:367.72px;color:#a818b0">290&deg;</span>
<span class="m" style="right:9.20px;top:367.72px;color:#a818b0">(287&deg;)</span>
<span class="m" style="left:325.60px;top:379.72px;color:#1a5ed8">KEHO-LD</span>
<span class="m" style="right:385.90px;top:379.72px;color:#1a5ed8">49</span>
<span class="m" style="right:338.40px;top:379.72px;color:#1a5ed8">(13.1)</span>
<span class="m" style="right:251.10px;top:379.72px;color:#1a5ed8">39.0</span>
<span class="m" style="right:190.40px;top:379.72px;color:#1a5ed8">-51.8</span>
<span class="m" style="left:629.00px;top:379.72px;color:#1a5ed8">LOS</span>
<span class="m" style="right:96.40px;top:379.72px;color:#1a5ed8">15.9</span>
<span class="m" style="right:55.80px;top:379.72px;color:#c41a1a">4&deg;</span>
<span class="m" style="right:9.20px;top:379.72px;color:#c41a1a">(1&deg;)</span>
<span class="m" style="left:325.60px;top:390.72px;color:#8412d4">KVVV-LP</span>
<span class="m" style="right:385.90px;top:390.72px;color:#8412d4">53</span>
<span class="m" style="right:251.10px;top:390.72px;color:#8412d4">25.8</span>
<span class="m" style="right:190.40px;top:390.72px;color:#8412d4">-53.0</span>
<span class="m" style="left:629.00px;top:390.72px;color:#8412d4">LOS</span>
<span class="m" style="right:96.40px;top:390.72px;color:#8412d4">27.2</span>
<span class="m" style="right:55.80px;top:390.72px;color:#4e9a1c">107&deg;</span>
<span class="m" style="right:9.20px;top:390.72px;color:#4e9a1c">(104&deg;)</span>
<span class="m" style="left:325.60px;top:401.72px;color:#8412d4">KJIB-LP</span>
<span class="m" style="right:385.90px;top:401.72px;color:#8412d4">29</span>
<span class="m" style="right:251.10px;top:401.72px;color:#8412d4">16.2</span>
<span class="m" style="right:190.40px;top:401.72px;color:#8412d4">-62.6</span>
<span class="m" style="left:629.00px;top:401.72px;color:#8412d4">LOS</span>
<span class="m" style="right:96.40px;top:401.72px;color:#8412d4">8.3</span>
<span class="m" style="right:55.80px;top:401.72px;color:#a818b0">290&deg;</span>
<span class="m" style="right:9.20px;top:401.72px;color:#a818b0">(287&deg;)</span>
<span class="m" style="left:325.60px;top:412.72px;color:#1a5ed8">KVVV-LP</span>
<span class="m" style="right:385.90px;top:412.72px;color:#1a5ed8">15</span>
<span class="m" style="right:338.40px;top:412.72px;color:#1a5ed8">(53.1)</span>
<span class="m" style="right:251.10px;top:412.72px;color:#1a5ed8">14.0</span>
<span class="m" style="right:190.40px;top:412.72px;color:#1a5ed8">-76.8</span>
<span class="m" style="left:629.00px;top:412.72px;color:#1a5ed8">LOS</span>
<span class="m" style="right:96.40px;top:412.72px;color:#1a5ed8">8.3</span>
<span class="m" style="right:55.80px;top:412.72px;color:#a818b0">290&deg;</span>
<span class="m" style="right:9.20px;top:412.72px;color:#a818b0">(287&deg;)</span>
<span class="m" style="left:325.60px;top:423.72px;color:#1a5ed8">KUVM-CD</span>
<span class="m" style="right:385.90px;top:423.72px;color:#1a5ed8">34</span>
<span class="m" style="right:338.40px;top:423.72px;color:#1a5ed8">(34.1)</span>
<span class="m" style="right:251.10px;top:423.72px;color:#1a5ed8">12.4</span>
<span class="m" style="right:190.40px;top:423.72px;color:#1a5ed8">-78.5</span>
<span class="m" style="left:629.00px;top:423.72px;color:#1a5ed8">LOS</span>
<span class="m" style="right:96.40px;top:423.72px;color:#1a5ed8">8.0</span>
<span class="m" style="right:55.80px;top:423.72px;color:#a818b0">286&deg;</span>
<span class="m" style="right:9.20px;top:423.72px;color:#a818b0">(283&deg;)</span>
<span class="m" style="left:325.60px;top:435.72px;color:#1a5ed8">KUVM-LD</span>
<span class="m" style="right:385.90px;top:435.72px;color:#1a5ed8">40</span>
<span class="m" style="right:251.10px;top:435.72px;color:#1a5ed8">11.8</span>
<span class="m" style="right:190.40px;top:435.72px;color:#1a5ed8">-79.0</span>
<span class="m" style="left:629.00px;top:435.72px;color:#1a5ed8">LOS</span>
<span class="m" style="right:96.40px;top:435.72px;color:#1a5ed8">8.0</span>
<span class="m" style="right:55.80px;top:435.72px;color:#a818b0">286&deg;</span>
<span class="m" style="right:9.20px;top:435.72px;color:#a818b0">(283&deg;)</span>
<span class="m" style="left:325.60px;top:446.72px;color:#1a5ed8">K04QT-D</span>
<span class="m" style="right:385.90px;top:446.72px;color:#1a5ed8">4</span>
<span class="m" style="right:251.10px;top:446.72px;color:#1a5ed8">11.0</span>
<span class="m" style="right:190.40px;top:446.72px;color:#1a5ed8">-79.8</span>
<span class="m" style="left:629.00px;top:446.72px;color:#1a5ed8">LOS</span>
<span class="m" style="right:96.40px;top:446.72px;color:#1a5ed8">62.7</span>
<span class="m" style="right:55.80px;top:446.72px;color:#d4a020">55&deg;</span>
<span class="m" style="right:9.20px;top:446.72px;color:#d4a020">(52&deg;)</span>
<span class="m" style="left:325.60px;top:457.72px;color:#1a5ed8">KBTX-DT</span>
<span class="m" style="right:385.90px;top:457.72px;color:#1a5ed8">50</span>
<span class="m" style="right:338.40px;top:457.72px;color:#1a5ed8">(3.1)</span>
<span class="m" style="left:473.80px;top:457.72px;color:#1a5ed8">CBS</span>
<span class="m" style="right:251.10px;top:457.72px;color:#1a5ed8">5.2</span>
<span class="m" style="right:190.40px;top:457.72px;color:#1a5ed8">-85.6</span>
<span class="m" style="left:622.21px;top:457.72px;color:#1a5ed8">2Edge</span>
<span class="m" style="right:96.40px;top:457.72px;color:#1a5ed8">80.6</span>
<span class="m" style="right:55.80px;top:457.72px;color:#c81848">331&deg;</span>
<span class="m" style="right:9.20px;top:457.72px;color:#c81848">(328&deg;)</span>
<span class="m" style="left:325.60px;top:468.72px;color:#8412d4">KUGB-CA</span>
<span class="m" style="right:385.90px;top:468.72px;color:#8412d4">28</span>
<span class="m" style="right:251.10px;top:468.72px;color:#8412d4">0.2</span>
<span class="m" style="right:190.40px;top:468.72px;color:#8412d4">-78.7</span>
<span class="m" style="left:629.00px;top:468.72px;color:#8412d4">LOS</span>
<span class="m" style="right:96.40px;top:468.72px;color:#8412d4">8.3</span>
<span class="m" style="right:55.80px;top:468.72px;color:#a818b0">290&deg;</span>
<span class="m" style="right:9.20px;top:468.72px;color:#a818b0">(287&deg;)</span>
<span class="m" style="left:325.60px;top:479.72px;color:#1a5ed8">KITU-TV</span>
<span class="m" style="right:385.90px;top:479.72px;color:#1a5ed8">33</span>
<span class="m" style="right:338.40px;top:479.72px;color:#1a5ed8">(34.1)</span>
<span class="m" style="left:473.80px;top:479.72px;color:#1a5ed8">Ind</span>
<span class="m" style="right:251.10px;top:479.72px;color:#1a5ed8">-12.4</span>
<span class="m" style="right:190.40px;top:479.72px;color:#1a5ed8">-103.3</span>
<span class="m" style="left:622.21px;top:479.72px;color:#1a5ed8">Tropo</span>
<span class="m" style="right:96.40px;top:479.72px;color:#1a5ed8">99.2</span>
<span class="m" style="right:55.80px;top:479.72px;color:#c9a12e">63&deg;</span>
<span class="m" style="right:9.20px;top:479.72px;color:#c9a12e">(60&deg;)</span>
<span class="m" style="left:325.60px;top:490.72px;color:#1a5ed8">KBTV-DT</span>
<span class="m" style="right:385.90px;top:490.72px;color:#1a5ed8">40</span>
<span class="m" style="right:338.40px;top:490.72px;color:#1a5ed8">(4.1)</span>
<span class="m" style="left:473.80px;top:490.72px;color:#1a5ed8">Fox</span>
<span class="m" style="right:251.10px;top:490.72px;color:#1a5ed8">-12.7</span>
<span class="m" style="right:190.40px;top:490.72px;color:#1a5ed8">-103.6</span>
<span class="m" style="left:622.21px;top:490.72px;color:#1a5ed8">Tropo</span>
<span class="m" style="right:96.40px;top:490.72px;color:#1a5ed8">94.3</span>
<span class="m" style="right:55.80px;top:490.72px;color:#c9a12e">62&deg;</span>
<span class="m" style="right:9.20px;top:490.72px;color:#c9a12e">(59&deg;)</span>
<span class="m" style="left:325.60px;top:502.72px;color:#1a5ed8">KVHP-DT</span>
<span class="m" style="right:385.90px;top:502.72px;color:#1a5ed8">30</span>
<span class="m" style="right:338.40px;top:502.72px;color:#1a5ed8">(29.1)</span>
<span class="m" style="left:473.80px;top:502.72px;color:#1a5ed8">Fox</span>
<span class="m" style="right:251.10px;top:502.72px;color:#1a5ed8">-15.9</span>
<span class="m" style="right:190.40px;top:502.72px;color:#1a5ed8">-106.7</span>
<span class="m" style="left:622.21px;top:502.72px;color:#1a5ed8">Tropo</span>
<span class="m" style="right:96.40px;top:502.72px;color:#1a5ed8">120.4</span>
<span class="m" style="right:55.80px;top:502.72px;color:#c9a12e">64&deg;</span>
<span class="m" style="right:9.20px;top:502.72px;color:#c9a12e">(60&deg;)</span>
<span class="m" style="left:325.60px;top:513.72px;color:#1a5ed8">KAVU-DT</span>
<span class="m" style="right:385.90px;top:513.72px;color:#1a5ed8">15</span>
<span class="m" style="right:338.40px;top:513.72px;color:#1a5ed8">(25.1)</span>
<span class="m" style="left:473.80px;top:513.72px;color:#1a5ed8">ABC</span>
<span class="m" style="right:251.10px;top:513.72px;color:#1a5ed8">-16.8</span>
<span class="m" style="right:190.40px;top:513.72px;color:#1a5ed8">-107.6</span>
<span class="m" style="left:622.21px;top:513.72px;color:#1a5ed8">Tropo</span>
<span class="m" style="right:96.40px;top:513.72px;color:#1a5ed8">115.5</span>
<span class="m" style="right:55.80px;top:513.72px;color:#2020a8">246&deg;</span>
<span class="m" style="right:9.20px;top:513.72px;color:#2020a8">(243&deg;)</span>
<span class="m" style="left:325.60px;top:524.72px;color:#1a5ed8">KBMT-DT</span>
<span class="m" style="right:385.90px;top:524.72px;color:#1a5ed8">12</span>
<span class="m" style="right:338.40px;top:524.72px;color:#1a5ed8">(12.1)</span>
<span class="m" style="left:473.80px;top:524.72px;color:#1a5ed8">ABC</span>
<span class="m" style="right:251.10px;top:524.72px;color:#1a5ed8">-19.4</span>
<span class="m" style="right:190.40px;top:524.72px;color:#1a5ed8">-110.2</span>
<span class="m" style="left:622.21px;top:524.72px;color:#1a5ed8">Tropo</span>
<span class="m" style="right:96.40px;top:524.72px;color:#1a5ed8">100.7</span>
<span class="m" style="right:55.80px;top:524.72px;color:#c9a12e">63&deg;</span>
<span class="m" style="right:9.20px;top:524.72px;color:#c9a12e">(60&deg;)</span>
<span class="m" style="left:325.60px;top:535.72px;color:#1a5ed8">KPLC</span>
<span class="m" style="right:385.90px;top:535.72px;color:#1a5ed8">7</span>
<span class="m" style="right:338.40px;top:535.72px;color:#1a5ed8">(7.1)</span>
<span class="m" style="left:473.80px;top:535.72px;color:#1a5ed8">NBC</span>
<span class="m" style="right:251.10px;top:535.72px;color:#1a5ed8">-20.6</span>
<span class="m" style="right:190.40px;top:535.72px;color:#1a5ed8">-111.5</span>
<span class="m" style="left:622.21px;top:535.72px;color:#1a5ed8">Tropo</span>
<span class="m" style="right:96.40px;top:535.72px;color:#1a5ed8">154.8</span>
<span class="m" style="right:55.80px;top:535.72px;color:#c9a12e">67&deg;</span>
<span class="m" style="right:9.20px;top:535.72px;color:#c9a12e">(63&deg;)</span>
<span class="m" style="left:325.60px;top:546.72px;color:#1a5ed8">KTBC</span>
<span class="m" style="right:385.90px;top:546.72px;color:#1a5ed8">7</span>
<span class="m" style="right:338.40px;top:546.72px;color:#1a5ed8">(7.1)</span>
<span class="m" style="left:473.80px;top:546.72px;color:#1a5ed8">Fox</span>
<span class="m" style="right:251.10px;top:546.72px;color:#1a5ed8">-21.0</span>
<span class="m" style="right:190.40px;top:546.72px;color:#1a5ed8">-111.8</span>
<span class="m" style="left:622.21px;top:546.72px;color:#1a5ed8">Tropo</span>
<span class="m" style="right:96.40px;top:546.72px;color:#1a5ed8">154.3</span>
<span class="m" style="right:55.80px;top:546.72px;color:#a818b0">291&deg;</span>
<span class="m" style="right:9.20px;top:546.72px;color:#a818b0">(288&deg;)</span>
<span class="m" style="left:325.60px;top:557.72px;color:#1a5ed8">KFDM</span>
<span class="m" style="right:385.90px;top:557.72px;color:#1a5ed8">21</span>
<span class="m" style="left:473.80px;top:557.72px;color:#1a5ed8">CBS</span>
<span class="m" style="right:251.10px;top:557.72px;color:#1a5ed8">-22.1</span>
<span class="m" style="right:190.40px;top:557.72px;color:#1a5ed8">-112.9</span>
<span class="m" style="left:622.21px;top:557.72px;color:#1a5ed8">Tropo</span>
<span class="m" style="right:96.40px;top:557.72px;color:#1a5ed8">94.2</span>
<span class="m" style="right:55.80px;top:557.72px;color:#c9a12e">63&deg;</span>
<span class="m" style="right:9.20px;top:557.72px;color:#c9a12e">(60&deg;)</span>
<span class="m" style="left:325.60px;top:569.72px;color:#1a5ed8">KVCT-DT</span>
<span class="m" style="right:385.90px;top:569.72px;color:#1a5ed8">11</span>
<span class="m" style="right:338.40px;top:569.72px;color:#1a5ed8">(19.1)</span>
<span class="m" style="left:473.80px;top:569.72px;color:#1a5ed8">Fox</span>
<span class="m" style="right:251.10px;top:569.72px;color:#1a5ed8">-23.3</span>
<span class="m" style="right:190.40px;top:569.72px;color:#1a5ed8">-114.2</span>
<span class="m" style="left:622.21px;top:569.72px;color:#1a5ed8">Tropo</span>
<span class="m" style="right:96.40px;top:569.72px;color:#1a5ed8">115.5</span>
<span class="m" style="right:55.80px;top:569.72px;color:#2020a8">246&deg;</span>
<span class="m" style="right:9.20px;top:569.72px;color:#2020a8">(243&deg;)</span>
<span class="m" style="left:325.60px;top:580.72px;color:#8412d4">KDHU-LP</span>
<span class="m" style="right:385.90px;top:580.72px;color:#8412d4">50</span>
<span class="m" style="right:251.10px;top:580.72px;color:#8412d4">-24.1</span>
<span class="m" style="right:190.40px;top:580.72px;color:#8412d4">-102.9</span>
<span class="m" style="left:622.21px;top:580.72px;color:#8412d4">2Edge</span>
<span class="m" style="right:96.40px;top:580.72px;color:#8412d4">57.0</span>
<span class="m" style="right:55.80px;top:580.72px;color:#2020a8">247&deg;</span>
<span class="m" style="right:9.20px;top:580.72px;color:#2020a8">(244&deg;)</span>
<span class="m" style="left:325.60px;top:591.72px;color:#1a5ed8">KTRE</span>
<span class="m" style="right:385.90px;top:591.72px;color:#1a5ed8">9</span>
<span class="m" style="left:473.80px;top:591.72px;color:#1a5ed8">ABC</span>
<span class="m" style="right:251.10px;top:591.72px;color:#1a5ed8">-26.1</span>
<span class="m" style="right:190.40px;top:591.72px;color:#1a5ed8">-116.9</span>
<span class="m" style="left:622.21px;top:591.72px;color:#1a5ed8">Tropo</span>
<span class="m" style="right:96.40px;top:591.72px;color:#1a5ed8">134.7</span>
<span class="m" style="right:55.80px;top:591.72px;color:#d02020">15&deg;</span>
<span class="m" style="right:9.20px;top:591.72px;color:#d02020">(12&deg;)</span>
<svg class="abs" width="800" height="170" viewBox="0 598 800 170" style="left:0;top:598px">
<rect x="39.2" y="637.2" width="9.6" height="122.3" fill="#e6e6e6"/>
<rect x="70.1" y="637.2" width="31.0" height="122.3" fill="#e6e6e6"/>
<line x1="9" y1="645.50" x2="172" y2="645.50" stroke="#4a4a4a" stroke-width="1" stroke-dasharray="1,1"/>
<line x1="216" y1="645.50" x2="791.5" y2="645.50" stroke="#4a4a4a" stroke-width="1" stroke-dasharray="1,1"/>
<line x1="9" y1="657.50" x2="172" y2="657.50" stroke="#4a4a4a" stroke-width="1" stroke-dasharray="1,1"/>
<line x1="216" y1="657.50" x2="791.5" y2="657.50" stroke="#4a4a4a" stroke-width="1" stroke-dasharray="1,1"/>
<line x1="9" y1="670.50" x2="172" y2="670.50" stroke="#4a4a4a" stroke-width="1" stroke-dasharray="1,1"/>
<line x1="216" y1="670.50" x2="791.5" y2="670.50" stroke="#4a4a4a" stroke-width="1" stroke-dasharray="1,1"/>
<line x1="9" y1="683.50" x2="172" y2="683.50" stroke="#4a4a4a" stroke-width="1" stroke-dasharray="1,1"/>
<line x1="216" y1="683.50" x2="791.5" y2="683.50" stroke="#4a4a4a" stroke-width="1" stroke-dasharray="1,1"/>
<line x1="9" y1="696.50" x2="172" y2="696.50" stroke="#4a4a4a" stroke-width="1" stroke-dasharray="1,1"/>
<line x1="216" y1="696.50" x2="791.5" y2="696.50" stroke="#4a4a4a" stroke-width="1" stroke-dasharray="1,1"/>
<line x1="9" y1="709.50" x2="172" y2="709.50" stroke="#4a4a4a" stroke-width="1" stroke-dasharray="1,1"/>
<line x1="216" y1="709.50" x2="791.5" y2="709.50" stroke="#4a4a4a" stroke-width="1" stroke-dasharray="1,1"/>
<line x1="9" y1="721.50" x2="172" y2="721.50" stroke="#4a4a4a" stroke-width="1" stroke-dasharray="1,1"/>
<line x1="216" y1="721.50" x2="791.5" y2="721.50" stroke="#4a4a4a" stroke-width="1" stroke-dasharray="1,1"/>
<line x1="9" y1="734.50" x2="172" y2="734.50" stroke="#4a4a4a" stroke-width="1" stroke-dasharray="1,1"/>
<line x1="216" y1="734.50" x2="791.5" y2="734.50" stroke="#4a4a4a" stroke-width="1" stroke-dasharray="1,1"/>
<line x1="9" y1="747.50" x2="172" y2="747.50" stroke="#4a4a4a" stroke-width="1" stroke-dasharray="1,1"/>
<line x1="216" y1="747.50" x2="791.5" y2="747.50" stroke="#4a4a4a" stroke-width="1" stroke-dasharray="1,1"/>
<path d="M7.9,760.5 V632.6 H13" fill="none" stroke="#000" stroke-width="1.5"/>
<path d="M64.5,632.6 H111 M158,632.6 H173.2 V760.5" fill="none" stroke="#000" stroke-width="1.5"/>
<path d="M214.5,760.5 V632.6 H792.4 V760.5" fill="none" stroke="#000" stroke-width="1.5"/>
<line x1="7.6" y1="760.3" x2="173.1" y2="760.3" stroke="#000" stroke-width="1.8"/>
<line x1="214.5" y1="760.3" x2="792.4" y2="760.3" stroke="#000" stroke-width="1.8"/>
<text x="40" y="636.3" font-size="11" font-weight="bold" text-anchor="middle">VHF Lo</text>
<text x="137" y="636.3" font-size="11" font-weight="bold" text-anchor="middle">VHF Hi</text>
<text x="501.5" y="636.3" font-size="11" font-weight="bold" fill="#8c8c8c" text-anchor="middle">UHF</text>
<rect x="10.25" y="756" width="6.50" height="8" fill="#fff"/>
<text x="13.50" y="762.2" font-size="7.2" fill="#222" text-anchor="middle">2</text>
<rect x="32.75" y="756" width="6.50" height="8" fill="#fff"/>
<text x="36.00" y="762.2" font-size="7.2" fill="#222" text-anchor="middle">4</text>
<rect x="52.25" y="756" width="6.50" height="8" fill="#fff"/>
<text x="55.50" y="762.2" font-size="7.2" fill="#222" text-anchor="middle">5</text>
<rect x="62.25" y="756" width="6.50" height="8" fill="#fff"/>
<text x="65.50" y="762.2" font-size="7.2" fill="#222" text-anchor="middle">6</text>
<rect x="103.25" y="756" width="6.50" height="8" fill="#fff"/>
<text x="106.50" y="762.2" font-size="7.2" fill="#222" text-anchor="middle">7</text>
<rect x="124.75" y="756" width="6.50" height="8" fill="#fff"/>
<text x="128.00" y="762.2" font-size="7.2" fill="#222" text-anchor="middle">9</text>
<rect x="143.75" y="756" width="10.51" height="8" fill="#fff"/>
<text x="149.00" y="762.2" font-size="7.2" fill="#222" text-anchor="middle">11</text>
<rect x="163.25" y="756" width="10.51" height="8" fill="#fff"/>
<text x="168.50" y="762.2" font-size="7.2" fill="#222" text-anchor="middle">13</text>
<rect x="213.93" y="756" width="10.51" height="8" fill="#fff"/>
<text x="219.18" y="762.2" font-size="7.2" fill="#222" text-anchor="middle">14</text>
<rect x="234.57" y="756" width="10.51" height="8" fill="#fff"/>
<text x="239.82" y="762.2" font-size="7.2" fill="#222" text-anchor="middle">16</text>
<rect x="265.53" y="756" width="10.51" height="8" fill="#fff"/>
<text x="270.78" y="762.2" font-size="7.2" fill="#222" text-anchor="middle">19</text>
<rect x="296.49" y="756" width="10.51" height="8" fill="#fff"/>
<text x="301.74" y="762.2" font-size="7.2" fill="#222" text-anchor="middle">22</text>
<rect x="327.45" y="756" width="10.51" height="8" fill="#fff"/>
<text x="332.70" y="762.2" font-size="7.2" fill="#222" text-anchor="middle">25</text>
<rect x="358.41" y="756" width="10.51" height="8" fill="#fff"/>
<text x="363.66" y="762.2" font-size="7.2" fill="#222" text-anchor="middle">28</text>
<rect x="389.37" y="756" width="10.51" height="8" fill="#fff"/>
<text x="394.62" y="762.2" font-size="7.2" fill="#222" text-anchor="middle">31</text>
<rect x="420.33" y="756" width="10.51" height="8" fill="#fff"/>
<text x="425.58" y="762.2" font-size="7.2" fill="#222" text-anchor="middle">34</text>
<rect x="451.29" y="756" width="10.51" height="8" fill="#fff"/>
<text x="456.54" y="762.2" font-size="7.2" fill="#222" text-anchor="middle">37</text>
<rect x="482.25" y="756" width="10.51" height="8" fill="#fff"/>
<text x="487.50" y="762.2" font-size="7.2" fill="#222" text-anchor="middle">40</text>
<rect x="513.21" y="756" width="10.51" height="8" fill="#fff"/>
<text x="518.46" y="762.2" font-size="7.2" fill="#222" text-anchor="middle">43</text>
<rect x="544.17" y="756" width="10.51" height="8" fill="#fff"/>
<text x="549.42" y="762.2" font-size="7.2" fill="#222" text-anchor="middle">46</text>
<rect x="575.13" y="756" width="10.51" height="8" fill="#fff"/>
<text x="580.38" y="762.2" font-size="7.2" fill="#222" text-anchor="middle">49</text>
<rect x="606.09" y="756" width="10.51" height="8" fill="#fff"/>
<text x="611.34" y="762.2" font-size="7.2" fill="#222" text-anchor="middle">52</text>
<rect x="637.05" y="756" width="10.51" height="8" fill="#fff"/>
<text x="642.30" y="762.2" font-size="7.2" fill="#222" text-anchor="middle">55</text>
<rect x="668.01" y="756" width="10.51" height="8" fill="#fff"/>
<text x="673.26" y="762.2" font-size="7.2" fill="#222" text-anchor="middle">58</text>
<rect x="698.97" y="756" width="10.51" height="8" fill="#fff"/>
<text x="704.22" y="762.2" font-size="7.2" fill="#222" text-anchor="middle">61</text>
<rect x="729.93" y="756" width="10.51" height="8" fill="#fff"/>
<text x="735.18" y="762.2" font-size="7.2" fill="#222" text-anchor="middle">64</text>
<rect x="760.89" y="756" width="10.51" height="8" fill="#fff"/>
<text x="766.14" y="762.2" font-size="7.2" fill="#222" text-anchor="middle">67</text>
<rect x="780.03" y="756" width="10.51" height="8" fill="#fff"/>
<text x="785.28" y="762.2" font-size="7.2" fill="#222" text-anchor="middle">69</text>
<text x="194" y="636" font-size="11" fill="#111" text-anchor="middle">dBm</text>
<text x="194" y="648.90" font-size="10.8" fill="#111" text-anchor="middle">-10</text>
<text x="194" y="661.70" font-size="10.8" fill="#111" text-anchor="middle">-20</text>
<text x="194" y="674.50" font-size="10.8" fill="#111" text-anchor="middle">-30</text>
<text x="194" y="687.30" font-size="10.8" fill="#111" text-anchor="middle">-40</text>
<text x="194" y="700.10" font-size="10.8" fill="#111" text-anchor="middle">-50</text>
<text x="194" y="712.90" font-size="10.8" fill="#111" text-anchor="middle">-60</text>
<text x="194" y="725.70" font-size="10.8" fill="#111" text-anchor="middle">-70</text>
<text x="194" y="738.50" font-size="10.8" fill="#111" text-anchor="middle">-80</text>
<text x="194" y="751.30" font-size="10.8" fill="#111" text-anchor="middle">-90</text>
<text x="194" y="761.6" font-size="9.2" fill="#111" text-anchor="middle">Channel</text>
<text x="37.75" y="728.54" font-size="9.7" fill="#1a62dc" stroke="#fff" stroke-width="2.6" stroke-opacity="0.9" paint-order="stroke" stroke-linejoin="round" text-anchor="start" transform="rotate(-90 37.75 728.54)">K04QT-D</text>
<text x="110.20" y="684.00" font-size="9.7" fill="#1a62dc" stroke="#fff" stroke-width="2.6" stroke-opacity="0.9" paint-order="stroke" stroke-linejoin="round" text-anchor="start" transform="rotate(-90 110.20 684.00)">KDHU-LD</text>
<text x="121.10" y="655.20" font-size="9.7" fill="#1a62dc" stroke="#fff" stroke-width="2.6" stroke-opacity="0.9" paint-order="stroke" stroke-linejoin="round" text-anchor="start" transform="rotate(-90 121.10 655.20)">KUHT</text>
<text x="151.70" y="659.81" font-size="9.7" fill="#1a62dc" stroke="#fff" stroke-width="2.6" stroke-opacity="0.9" paint-order="stroke" stroke-linejoin="round" text-anchor="start" transform="rotate(-90 151.70 659.81)">KHOU-DT</text>
<text x="171.60" y="658.91" font-size="9.7" fill="#1a62dc" stroke="#fff" stroke-width="2.6" stroke-opacity="0.9" paint-order="stroke" stroke-linejoin="round" text-anchor="start" transform="rotate(-90 171.60 658.91)">KTRK-DT</text>
<text x="233.40" y="724.70" font-size="9.7" fill="#1a62dc" stroke="#fff" stroke-width="2.6" stroke-opacity="0.9" paint-order="stroke" stroke-linejoin="round" text-anchor="start" transform="rotate(-90 233.40 724.70)">KVVV-LP</text>
<text x="274.68" y="653.28" font-size="9.7" fill="#1a62dc" stroke="#fff" stroke-width="2.6" stroke-opacity="0.9" paint-order="stroke" stroke-linejoin="round" text-anchor="start" transform="rotate(-90 274.68 653.28)">KTXH</text>
<text x="295.32" y="676.96" font-size="9.7" fill="#1a62dc" stroke="#fff" stroke-width="2.6" stroke-opacity="0.9" paint-order="stroke" stroke-linejoin="round" text-anchor="start" transform="rotate(-90 295.32 676.96)">KVQT-LD</text>
<text x="295.32" y="673.50" font-size="9.7" fill="#8412d4" stroke="#fff" stroke-width="2.6" stroke-opacity="0.9" paint-order="stroke" stroke-linejoin="round" text-anchor="start" transform="rotate(-90 295.32 673.50)">KVQT-LD</text>
<text x="315.96" y="659.42" font-size="9.7" fill="#1a62dc" stroke="#fff" stroke-width="2.6" stroke-opacity="0.9" paint-order="stroke" stroke-linejoin="round" text-anchor="start" transform="rotate(-90 315.96 659.42)">KLTJ-DT</text>
<text x="326.28" y="667.04" font-size="9.7" fill="#1a62dc" stroke="#fff" stroke-width="2.6" stroke-opacity="0.9" paint-order="stroke" stroke-linejoin="round" text-anchor="end" transform="rotate(-90 326.28 667.04)">KETH-TV</text>
<text x="336.60" y="681.95" font-size="9.7" fill="#1a62dc" stroke="#fff" stroke-width="2.6" stroke-opacity="0.9" paint-order="stroke" stroke-linejoin="round" text-anchor="start" transform="rotate(-90 336.60 681.95)">KVDO-LP</text>
<text x="336.60" y="674.53" font-size="9.7" fill="#8412d4" stroke="#fff" stroke-width="2.6" stroke-opacity="0.9" paint-order="stroke" stroke-linejoin="round" text-anchor="start" transform="rotate(-90 336.60 674.53)">KVDO-LP</text>
<text x="346.92" y="659.42" font-size="9.7" fill="#1a62dc" stroke="#fff" stroke-width="2.6" stroke-opacity="0.9" paint-order="stroke" stroke-linejoin="round" text-anchor="start" transform="rotate(-90 346.92 659.42)">KRIV</text>
<text x="367.56" y="683.49" font-size="9.7" fill="#1a62dc" stroke="#fff" stroke-width="2.6" stroke-opacity="0.9" paint-order="stroke" stroke-linejoin="round" text-anchor="start" transform="rotate(-90 367.56 683.49)">KUGB-CA</text>
<text x="367.56" y="727.14" font-size="9.7" fill="#8412d4" stroke="#fff" stroke-width="2.6" stroke-opacity="0.9" paint-order="stroke" stroke-linejoin="round" text-anchor="start" transform="rotate(-90 367.56 727.14)">KUGB-CA</text>
<text x="377.88" y="706.53" font-size="9.7" fill="#8412d4" stroke="#fff" stroke-width="2.6" stroke-opacity="0.9" paint-order="stroke" stroke-linejoin="round" text-anchor="start" transform="rotate(-90 377.88 706.53)">KJIB-LP</text>
<text x="388.20" y="678.62" font-size="9.7" fill="#1a62dc" stroke="#fff" stroke-width="2.6" stroke-opacity="0.9" paint-order="stroke" stroke-linejoin="round" text-anchor="start" transform="rotate(-90 388.20 678.62)">KCVH-LD</text>
<text x="398.52" y="675.68" font-size="9.7" fill="#1a62dc" stroke="#fff" stroke-width="2.6" stroke-opacity="0.9" paint-order="stroke" stroke-linejoin="round" text-anchor="start" transform="rotate(-90 398.52 675.68)">KJIB-LP</text>
<text x="408.84" y="652.64" font-size="9.7" fill="#1a62dc" stroke="#fff" stroke-width="2.6" stroke-opacity="0.9" paint-order="stroke" stroke-linejoin="round" text-anchor="start" transform="rotate(-90 408.84 652.64)">KPXB-DT</text>
<text x="419.16" y="671.46" font-size="9.7" fill="#8412d4" stroke="#fff" stroke-width="2.6" stroke-opacity="0.9" paint-order="stroke" stroke-linejoin="round" text-anchor="start" transform="rotate(-90 419.16 671.46)">KBPX-LP</text>
<text x="429.48" y="726.88" font-size="9.7" fill="#1a62dc" stroke="#fff" stroke-width="2.6" stroke-opacity="0.9" paint-order="stroke" stroke-linejoin="round" text-anchor="start" transform="rotate(-90 429.48 726.88)">KUVM-CD</text>
<text x="429.48" y="672.35" font-size="9.7" fill="#8412d4" stroke="#fff" stroke-width="2.6" stroke-opacity="0.9" paint-order="stroke" stroke-linejoin="round" text-anchor="start" transform="rotate(-90 429.48 672.35)">KUVM-CD</text>
<text x="439.80" y="667.04" font-size="9.7" fill="#1a62dc" stroke="#fff" stroke-width="2.6" stroke-opacity="0.9" paint-order="stroke" stroke-linejoin="round" text-anchor="end" transform="rotate(-90 439.80 667.04)">KPRC-DT</text>
<text x="450.12" y="653.15" font-size="9.7" fill="#1a62dc" stroke="#fff" stroke-width="2.6" stroke-opacity="0.9" paint-order="stroke" stroke-linejoin="round" text-anchor="start" transform="rotate(-90 450.12 653.15)">KFTH-DT</text>
<text x="470.76" y="652.13" font-size="9.7" fill="#1a62dc" stroke="#fff" stroke-width="2.6" stroke-opacity="0.9" paint-order="stroke" stroke-linejoin="round" text-anchor="start" transform="rotate(-90 470.76 652.13)">KIAH</text>
<text x="481.08" y="684.38" font-size="9.7" fill="#1a62dc" stroke="#fff" stroke-width="2.6" stroke-opacity="0.9" paint-order="stroke" stroke-linejoin="round" text-anchor="start" transform="rotate(-90 481.08 684.38)">KZHO-LD</text>
<text x="491.40" y="727.52" font-size="9.7" fill="#8ab2ec" stroke="#fff" stroke-width="2.6" stroke-opacity="0.9" paint-order="stroke" stroke-linejoin="round" text-anchor="start" transform="rotate(-90 491.40 727.52)">KUVM-LD</text>
<text x="501.72" y="662.37" font-size="9.7" fill="#1a62dc" stroke="#fff" stroke-width="2.6" stroke-opacity="0.9" paint-order="stroke" stroke-linejoin="round" text-anchor="start" transform="rotate(-90 501.72 662.37)">KUBE-TV</text>
<text x="512.04" y="653.15" font-size="9.7" fill="#1a62dc" stroke="#fff" stroke-width="2.6" stroke-opacity="0.9" paint-order="stroke" stroke-linejoin="round" text-anchor="start" transform="rotate(-90 512.04 653.15)">KTBU</text>
<text x="522.36" y="671.71" font-size="9.7" fill="#1a62dc" stroke="#fff" stroke-width="2.6" stroke-opacity="0.9" paint-order="stroke" stroke-linejoin="round" text-anchor="start" transform="rotate(-90 522.36 671.71)">KHLM-LD</text>
<text x="532.68" y="653.41" font-size="9.7" fill="#1a62dc" stroke="#fff" stroke-width="2.6" stroke-opacity="0.9" paint-order="stroke" stroke-linejoin="round" text-anchor="start" transform="rotate(-90 532.68 653.41)">KZJL-DT</text>
<text x="543.00" y="657.50" font-size="9.7" fill="#1a62dc" stroke="#fff" stroke-width="2.6" stroke-opacity="0.9" paint-order="stroke" stroke-linejoin="round" text-anchor="start" transform="rotate(-90 543.00 657.50)">KXLN-DT</text>
<text x="553.32" y="677.47" font-size="9.7" fill="#1a62dc" stroke="#fff" stroke-width="2.6" stroke-opacity="0.9" paint-order="stroke" stroke-linejoin="round" text-anchor="start" transform="rotate(-90 553.32 677.47)">KBPX-LP</text>
<text x="563.64" y="653.66" font-size="9.7" fill="#1a62dc" stroke="#fff" stroke-width="2.6" stroke-opacity="0.9" paint-order="stroke" stroke-linejoin="round" text-anchor="start" transform="rotate(-90 563.64 653.66)">KYAZ</text>
<text x="573.96" y="654.18" font-size="9.7" fill="#1a62dc" stroke="#fff" stroke-width="2.6" stroke-opacity="0.9" paint-order="stroke" stroke-linejoin="round" text-anchor="start" transform="rotate(-90 573.96 654.18)">KTMD-DT</text>
<text x="584.28" y="692.70" font-size="9.7" fill="#1a62dc" stroke="#fff" stroke-width="2.6" stroke-opacity="0.9" paint-order="stroke" stroke-linejoin="round" text-anchor="start" transform="rotate(-90 584.28 692.70)">KEHO-LD</text>
<text x="594.60" y="735.97" font-size="9.7" fill="#8ab2ec" stroke="#fff" stroke-width="2.6" stroke-opacity="0.9" paint-order="stroke" stroke-linejoin="round" text-anchor="start" transform="rotate(-90 594.60 735.97)">KBTX-DT</text>
<text x="625.56" y="694.24" font-size="9.7" fill="#8412d4" stroke="#fff" stroke-width="2.6" stroke-opacity="0.9" paint-order="stroke" stroke-linejoin="round" text-anchor="start" transform="rotate(-90 625.56 694.24)">KVVV-LP</text>
<text x="656.52" y="673.25" font-size="9.7" fill="#8412d4" stroke="#fff" stroke-width="2.6" stroke-opacity="0.9" paint-order="stroke" stroke-linejoin="round" text-anchor="start" transform="rotate(-90 656.52 673.25)">KQHO-LP</text>
<rect x="27.65" y="730.94" width="12.4" height="6.8" rx="3.4" fill="#ffff00"/>
<rect x="29.25" y="732.64" width="9.2" height="3.4" rx="1.1" fill="#1262dc" stroke="#0b2f86" stroke-width="0.8"/>
<rect x="100.10" y="686.40" width="12.4" height="6.8" rx="3.4" fill="#ffff00"/>
<rect x="101.70" y="688.10" width="9.2" height="3.4" rx="1.1" fill="#1262dc" stroke="#0b2f86" stroke-width="0.8"/>
<rect x="111.00" y="657.60" width="12.4" height="6.8" rx="3.4" fill="#ffff00"/>
<rect x="112.60" y="659.30" width="9.2" height="3.4" rx="1.1" fill="#1262dc" stroke="#0b2f86" stroke-width="0.8"/>
<rect x="141.60" y="662.21" width="12.4" height="6.8" rx="3.4" fill="#ffff00"/>
<rect x="143.20" y="663.91" width="9.2" height="3.4" rx="1.1" fill="#1262dc" stroke="#0b2f86" stroke-width="0.8"/>
<rect x="161.50" y="661.31" width="12.4" height="6.8" rx="3.4" fill="#ffff00"/>
<rect x="163.10" y="663.01" width="9.2" height="3.4" rx="1.1" fill="#1262dc" stroke="#0b2f86" stroke-width="0.8"/>
<rect x="224.90" y="728.80" width="9.2" height="3.4" rx="1.1" fill="#1262dc" stroke="#0b2f86" stroke-width="0.8"/>
<rect x="266.18" y="657.38" width="9.2" height="3.4" rx="1.1" fill="#1262dc" stroke="#0b2f86" stroke-width="0.8"/>
<rect x="286.82" y="681.06" width="9.2" height="3.4" rx="1.1" fill="#1262dc" stroke="#0b2f86" stroke-width="0.8"/>
<rect x="286.82" y="677.60" width="9.2" height="3.4" rx="1.1" fill="#7a08d8" stroke="#36006e" stroke-width="0.8"/>
<rect x="307.46" y="663.52" width="9.2" height="3.4" rx="1.1" fill="#1262dc" stroke="#0b2f86" stroke-width="0.8"/>
<rect x="317.78" y="655.84" width="9.2" height="3.4" rx="1.1" fill="#1262dc" stroke="#0b2f86" stroke-width="0.8"/>
<rect x="328.10" y="686.05" width="9.2" height="3.4" rx="1.1" fill="#1262dc" stroke="#0b2f86" stroke-width="0.8"/>
<rect x="328.10" y="678.63" width="9.2" height="3.4" rx="1.1" fill="#7a08d8" stroke="#36006e" stroke-width="0.8"/>
<rect x="338.42" y="663.52" width="9.2" height="3.4" rx="1.1" fill="#1262dc" stroke="#0b2f86" stroke-width="0.8"/>
<rect x="359.06" y="687.59" width="9.2" height="3.4" rx="1.1" fill="#8fb6ee" stroke="#8fb6ee" stroke-width="0.8"/>
<rect x="359.06" y="731.24" width="9.2" height="3.4" rx="1.1" fill="#7a08d8" stroke="#36006e" stroke-width="0.8"/>
<rect x="369.38" y="710.63" width="9.2" height="3.4" rx="1.1" fill="#7a08d8" stroke="#36006e" stroke-width="0.8"/>
<rect x="379.70" y="682.72" width="9.2" height="3.4" rx="1.1" fill="#1262dc" stroke="#0b2f86" stroke-width="0.8"/>
<rect x="390.02" y="679.78" width="9.2" height="3.4" rx="1.1" fill="#1262dc" stroke="#0b2f86" stroke-width="0.8"/>
<rect x="400.34" y="656.74" width="9.2" height="3.4" rx="1.1" fill="#1262dc" stroke="#0b2f86" stroke-width="0.8"/>
<rect x="410.66" y="675.56" width="9.2" height="3.4" rx="1.1" fill="#7a08d8" stroke="#36006e" stroke-width="0.8"/>
<rect x="420.98" y="730.98" width="9.2" height="3.4" rx="1.1" fill="#1262dc" stroke="#0b2f86" stroke-width="0.8"/>
<rect x="420.98" y="676.45" width="9.2" height="3.4" rx="1.1" fill="#7a08d8" stroke="#36006e" stroke-width="0.8"/>
<rect x="431.30" y="655.84" width="9.2" height="3.4" rx="1.1" fill="#1262dc" stroke="#0b2f86" stroke-width="0.8"/>
<rect x="441.62" y="657.25" width="9.2" height="3.4" rx="1.1" fill="#1262dc" stroke="#0b2f86" stroke-width="0.8"/>
<rect x="462.26" y="656.23" width="9.2" height="3.4" rx="1.1" fill="#1262dc" stroke="#0b2f86" stroke-width="0.8"/>
<rect x="472.58" y="688.48" width="9.2" height="3.4" rx="1.1" fill="#1262dc" stroke="#0b2f86" stroke-width="0.8"/>
<rect x="482.90" y="731.62" width="9.2" height="3.4" rx="1.1" fill="#8fb6ee" stroke="#8fb6ee" stroke-width="0.8"/>
<rect x="493.22" y="666.47" width="9.2" height="3.4" rx="1.1" fill="#1262dc" stroke="#0b2f86" stroke-width="0.8"/>
<rect x="503.54" y="657.25" width="9.2" height="3.4" rx="1.1" fill="#1262dc" stroke="#0b2f86" stroke-width="0.8"/>
<rect x="513.86" y="675.81" width="9.2" height="3.4" rx="1.1" fill="#1262dc" stroke="#0b2f86" stroke-width="0.8"/>
<rect x="524.18" y="657.51" width="9.2" height="3.4" rx="1.1" fill="#1262dc" stroke="#0b2f86" stroke-width="0.8"/>
<rect x="534.50" y="661.60" width="9.2" height="3.4" rx="1.1" fill="#1262dc" stroke="#0b2f86" stroke-width="0.8"/>
<rect x="544.82" y="681.57" width="9.2" height="3.4" rx="1.1" fill="#1262dc" stroke="#0b2f86" stroke-width="0.8"/>
<rect x="555.14" y="657.76" width="9.2" height="3.4" rx="1.1" fill="#1262dc" stroke="#0b2f86" stroke-width="0.8"/>
<rect x="565.46" y="658.28" width="9.2" height="3.4" rx="1.1" fill="#1262dc" stroke="#0b2f86" stroke-width="0.8"/>
<rect x="575.78" y="696.80" width="9.2" height="3.4" rx="1.1" fill="#1262dc" stroke="#0b2f86" stroke-width="0.8"/>
<rect x="586.10" y="740.07" width="9.2" height="3.4" rx="1.1" fill="#8fb6ee" stroke="#8fb6ee" stroke-width="0.8"/>
<rect x="617.06" y="698.34" width="9.2" height="3.4" rx="1.1" fill="#7a08d8" stroke="#36006e" stroke-width="0.8"/>
<rect x="648.02" y="677.35" width="9.2" height="3.4" rx="1.1" fill="#7a08d8" stroke="#36006e" stroke-width="0.8"/>
<rect x="347" y="617.5" width="6.8" height="10.6" fill="#c00000"/>
<text x="350.4" y="626.2" font-size="10" fill="#fff" text-anchor="middle">C</text>
<text x="361" y="627.5" font-size="11.2" fill="#111" textLength="123.5" lengthAdjust="spacingAndGlyphs">= Co-channel warning</text>
<rect x="557.8" y="617.4" width="6.6" height="11" fill="#f47a7a"/>
<text x="561.1" y="626" font-size="10" fill="#fff" text-anchor="middle">a</text>
<text x="571" y="627.5" font-size="11.2" fill="#111" textLength="158" lengthAdjust="spacingAndGlyphs">= Adjacent channel warning</text>
</svg>
</body></html>
